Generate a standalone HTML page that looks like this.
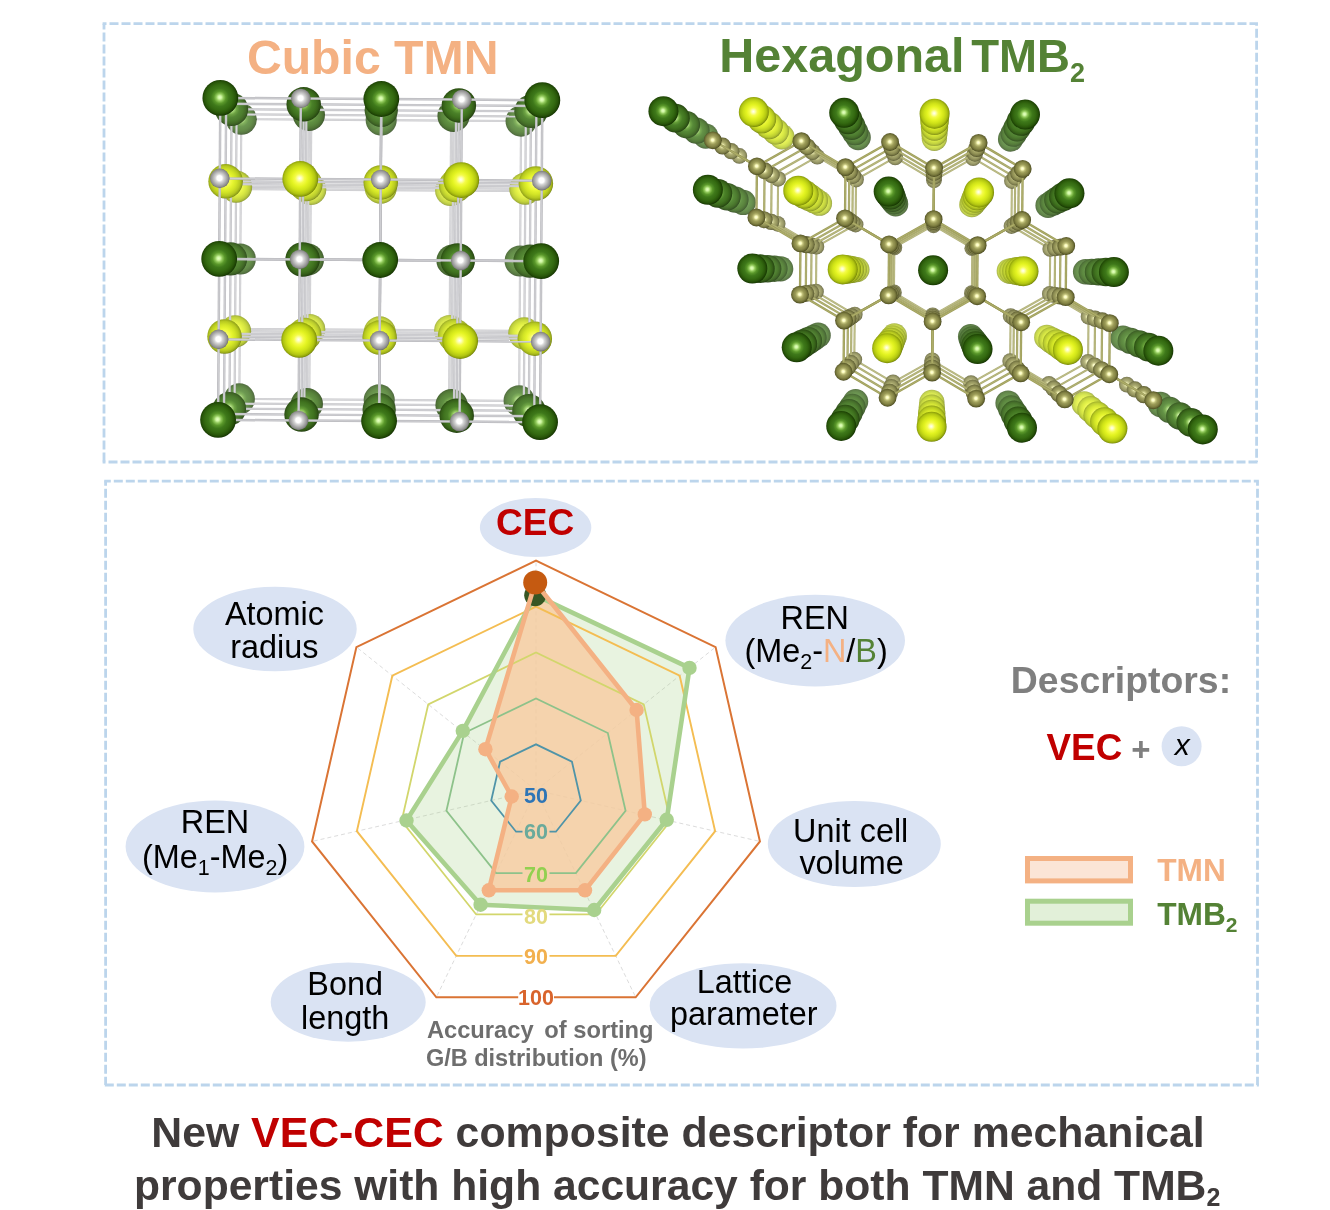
<!DOCTYPE html>
<html lang="en"><head><meta charset="utf-8"><title>VEC-CEC composite descriptor</title>
<style>
html,body{margin:0;padding:0;background:#fff;}
svg{display:block;}
text{font-family:"Liberation Sans", sans-serif;}
.b{font-weight:bold;}
</style></head><body>
<svg width="1330" height="1210" viewBox="0 0 1330 1210">
<defs>
<radialGradient id="G24" cx="0.49" cy="0.49" r="0.51" fx="0.485" fy="0.485"><stop offset="0" stop-color="#eaffd1"/><stop offset="0.09" stop-color="#dbf9ba"/><stop offset="0.2" stop-color="#abd582"/><stop offset="0.33" stop-color="#82b15d"/><stop offset="0.5" stop-color="#6c9851"/><stop offset="0.7" stop-color="#658e4a"/><stop offset="0.85" stop-color="#5c7f45"/><stop offset="0.95" stop-color="#537040"/><stop offset="1" stop-color="#4b613d"/></radialGradient>
<radialGradient id="N24" cx="0.49" cy="0.49" r="0.51" fx="0.485" fy="0.485"><stop offset="0" stop-color="#ffffff"/><stop offset="0.25" stop-color="#ffffff"/><stop offset="0.42" stop-color="#e0e0e0"/><stop offset="0.65" stop-color="#c4c4c4"/><stop offset="0.88" stop-color="#a9a9a9"/><stop offset="1" stop-color="#8e8e8e"/></radialGradient>
<radialGradient id="Y24" cx="0.49" cy="0.49" r="0.51" fx="0.485" fy="0.485"><stop offset="0" stop-color="#fffff7"/><stop offset="0.1" stop-color="#feffc9"/><stop offset="0.26" stop-color="#f7fd74"/><stop offset="0.45" stop-color="#eaf757"/><stop offset="0.65" stop-color="#dbe94f"/><stop offset="0.84" stop-color="#c4d44b"/><stop offset="0.95" stop-color="#abb845"/><stop offset="1" stop-color="#8f9b40"/></radialGradient>
<radialGradient id="N18" cx="0.49" cy="0.49" r="0.51" fx="0.485" fy="0.485"><stop offset="0" stop-color="#ffffff"/><stop offset="0.25" stop-color="#ffffff"/><stop offset="0.42" stop-color="#dddddd"/><stop offset="0.65" stop-color="#c0c0c0"/><stop offset="0.88" stop-color="#a2a2a2"/><stop offset="1" stop-color="#858585"/></radialGradient>
<radialGradient id="Y18" cx="0.49" cy="0.49" r="0.51" fx="0.485" fy="0.485"><stop offset="0" stop-color="#fffff6"/><stop offset="0.1" stop-color="#feffc5"/><stop offset="0.26" stop-color="#f7fd69"/><stop offset="0.45" stop-color="#e9f64a"/><stop offset="0.65" stop-color="#d8e742"/><stop offset="0.84" stop-color="#c0d03d"/><stop offset="0.95" stop-color="#a4b336"/><stop offset="1" stop-color="#869431"/></radialGradient>
<radialGradient id="G18" cx="0.49" cy="0.49" r="0.51" fx="0.485" fy="0.485"><stop offset="0" stop-color="#e9ffcd"/><stop offset="0.09" stop-color="#d8f8b4"/><stop offset="0.2" stop-color="#a4d278"/><stop offset="0.33" stop-color="#78ab50"/><stop offset="0.5" stop-color="#619043"/><stop offset="0.7" stop-color="#59853c"/><stop offset="0.85" stop-color="#507536"/><stop offset="0.95" stop-color="#466531"/><stop offset="1" stop-color="#3d542e"/></radialGradient>
<radialGradient id="G12" cx="0.49" cy="0.49" r="0.51" fx="0.485" fy="0.485"><stop offset="0" stop-color="#e7ffc9"/><stop offset="0.09" stop-color="#d6f8af"/><stop offset="0.2" stop-color="#9dcf6e"/><stop offset="0.33" stop-color="#6ea444"/><stop offset="0.5" stop-color="#558835"/><stop offset="0.7" stop-color="#4c7c2e"/><stop offset="0.85" stop-color="#436b27"/><stop offset="0.95" stop-color="#385a22"/><stop offset="1" stop-color="#2e481f"/></radialGradient>
<radialGradient id="N12" cx="0.49" cy="0.49" r="0.51" fx="0.485" fy="0.485"><stop offset="0" stop-color="#ffffff"/><stop offset="0.25" stop-color="#ffffff"/><stop offset="0.42" stop-color="#dbdbdb"/><stop offset="0.65" stop-color="#bbbbbb"/><stop offset="0.88" stop-color="#9c9c9c"/><stop offset="1" stop-color="#7c7c7c"/></radialGradient>
<radialGradient id="Y12" cx="0.49" cy="0.49" r="0.51" fx="0.485" fy="0.485"><stop offset="0" stop-color="#fffff5"/><stop offset="0.1" stop-color="#feffc1"/><stop offset="0.26" stop-color="#f6fc5e"/><stop offset="0.45" stop-color="#e7f53d"/><stop offset="0.65" stop-color="#d5e534"/><stop offset="0.84" stop-color="#bbcd2e"/><stop offset="0.95" stop-color="#9dad27"/><stop offset="1" stop-color="#7e8c22"/></radialGradient>
<radialGradient id="N6" cx="0.49" cy="0.49" r="0.51" fx="0.485" fy="0.485"><stop offset="0" stop-color="#ffffff"/><stop offset="0.25" stop-color="#ffffff"/><stop offset="0.42" stop-color="#d8d8d8"/><stop offset="0.65" stop-color="#b7b7b7"/><stop offset="0.88" stop-color="#959595"/><stop offset="1" stop-color="#737373"/></radialGradient>
<radialGradient id="Y6" cx="0.49" cy="0.49" r="0.51" fx="0.485" fy="0.485"><stop offset="0" stop-color="#fffff5"/><stop offset="0.1" stop-color="#feffbc"/><stop offset="0.26" stop-color="#f6fc53"/><stop offset="0.45" stop-color="#e6f52f"/><stop offset="0.65" stop-color="#d2e426"/><stop offset="0.84" stop-color="#b7c920"/><stop offset="0.95" stop-color="#97a819"/><stop offset="1" stop-color="#758413"/></radialGradient>
<radialGradient id="G6" cx="0.49" cy="0.49" r="0.51" fx="0.485" fy="0.485"><stop offset="0" stop-color="#e6ffc6"/><stop offset="0.09" stop-color="#d3f7a9"/><stop offset="0.2" stop-color="#97cb64"/><stop offset="0.33" stop-color="#649e37"/><stop offset="0.5" stop-color="#4a8028"/><stop offset="0.7" stop-color="#40731f"/><stop offset="0.85" stop-color="#366119"/><stop offset="0.95" stop-color="#2b4e13"/><stop offset="1" stop-color="#203b0f"/></radialGradient>
<radialGradient id="G0" cx="0.49" cy="0.49" r="0.51" fx="0.485" fy="0.485"><stop offset="0" stop-color="#e4ffc2"/><stop offset="0.09" stop-color="#d0f7a4"/><stop offset="0.2" stop-color="#90c85a"/><stop offset="0.33" stop-color="#5a982a"/><stop offset="0.5" stop-color="#3e781a"/><stop offset="0.7" stop-color="#346a11"/><stop offset="0.85" stop-color="#29570a"/><stop offset="0.95" stop-color="#1d4304"/><stop offset="1" stop-color="#122f00"/></radialGradient>
<radialGradient id="N0" cx="0.49" cy="0.49" r="0.51" fx="0.485" fy="0.485"><stop offset="0" stop-color="#ffffff"/><stop offset="0.25" stop-color="#ffffff"/><stop offset="0.42" stop-color="#d6d6d6"/><stop offset="0.65" stop-color="#b2b2b2"/><stop offset="0.88" stop-color="#8e8e8e"/><stop offset="1" stop-color="#6a6a6a"/></radialGradient>
<radialGradient id="Y0" cx="0.49" cy="0.49" r="0.51" fx="0.485" fy="0.485"><stop offset="0" stop-color="#fffff4"/><stop offset="0.1" stop-color="#feffb8"/><stop offset="0.26" stop-color="#f5fc48"/><stop offset="0.45" stop-color="#e4f422"/><stop offset="0.65" stop-color="#cfe218"/><stop offset="0.84" stop-color="#b2c612"/><stop offset="0.95" stop-color="#90a20a"/><stop offset="1" stop-color="#6c7c04"/></radialGradient>
<radialGradient id="G26" cx="0.49" cy="0.49" r="0.51" fx="0.485" fy="0.485"><stop offset="0" stop-color="#ebffd2"/><stop offset="0.09" stop-color="#dcf9bc"/><stop offset="0.2" stop-color="#add685"/><stop offset="0.33" stop-color="#85b361"/><stop offset="0.5" stop-color="#709b56"/><stop offset="0.7" stop-color="#69914f"/><stop offset="0.85" stop-color="#61834a"/><stop offset="0.95" stop-color="#587445"/><stop offset="1" stop-color="#506542"/></radialGradient>
<radialGradient id="Y26" cx="0.49" cy="0.49" r="0.51" fx="0.485" fy="0.485"><stop offset="0" stop-color="#fffff7"/><stop offset="0.1" stop-color="#feffca"/><stop offset="0.26" stop-color="#f8fd78"/><stop offset="0.45" stop-color="#ebf75b"/><stop offset="0.65" stop-color="#dbea54"/><stop offset="0.84" stop-color="#c6d550"/><stop offset="0.95" stop-color="#adba4a"/><stop offset="1" stop-color="#929e45"/></radialGradient>
<radialGradient id="B22" cx="0.49" cy="0.49" r="0.51" fx="0.485" fy="0.485"><stop offset="0" stop-color="#ffffe8"/><stop offset="0.14" stop-color="#fcfcc9"/><stop offset="0.3" stop-color="#cdcd95"/><stop offset="0.48" stop-color="#afaf79"/><stop offset="0.7" stop-color="#9e9e6c"/><stop offset="0.88" stop-color="#87875b"/><stop offset="1" stop-color="#696949"/></radialGradient>
<radialGradient id="G20" cx="0.49" cy="0.49" r="0.51" fx="0.485" fy="0.485"><stop offset="0" stop-color="#e9ffce"/><stop offset="0.09" stop-color="#d9f9b6"/><stop offset="0.2" stop-color="#a6d37a"/><stop offset="0.33" stop-color="#7aac54"/><stop offset="0.5" stop-color="#649247"/><stop offset="0.7" stop-color="#5c873f"/><stop offset="0.85" stop-color="#53783a"/><stop offset="0.95" stop-color="#496835"/><stop offset="1" stop-color="#405832"/></radialGradient>
<radialGradient id="Y20" cx="0.49" cy="0.49" r="0.51" fx="0.485" fy="0.485"><stop offset="0" stop-color="#fffff6"/><stop offset="0.1" stop-color="#feffc6"/><stop offset="0.26" stop-color="#f7fd6c"/><stop offset="0.45" stop-color="#e9f64d"/><stop offset="0.65" stop-color="#d8e845"/><stop offset="0.84" stop-color="#c1d140"/><stop offset="0.95" stop-color="#a6b43a"/><stop offset="1" stop-color="#899635"/></radialGradient>
<radialGradient id="B16" cx="0.49" cy="0.49" r="0.51" fx="0.485" fy="0.485"><stop offset="0" stop-color="#ffffe7"/><stop offset="0.14" stop-color="#fcfcc5"/><stop offset="0.3" stop-color="#c8c88c"/><stop offset="0.48" stop-color="#a8a86d"/><stop offset="0.7" stop-color="#969660"/><stop offset="0.88" stop-color="#7d7d4d"/><stop offset="1" stop-color="#5d5d39"/></radialGradient>
<radialGradient id="G13" cx="0.49" cy="0.49" r="0.51" fx="0.485" fy="0.485"><stop offset="0" stop-color="#e8ffca"/><stop offset="0.09" stop-color="#d6f8b0"/><stop offset="0.2" stop-color="#9ecf6f"/><stop offset="0.33" stop-color="#6fa546"/><stop offset="0.5" stop-color="#578a38"/><stop offset="0.7" stop-color="#4e7d30"/><stop offset="0.85" stop-color="#456d2a"/><stop offset="0.95" stop-color="#3a5b25"/><stop offset="1" stop-color="#314a21"/></radialGradient>
<radialGradient id="Y13" cx="0.49" cy="0.49" r="0.51" fx="0.485" fy="0.485"><stop offset="0" stop-color="#fffff5"/><stop offset="0.1" stop-color="#feffc1"/><stop offset="0.26" stop-color="#f6fc60"/><stop offset="0.45" stop-color="#e8f53f"/><stop offset="0.65" stop-color="#d5e636"/><stop offset="0.84" stop-color="#bccd31"/><stop offset="0.95" stop-color="#9eae2a"/><stop offset="1" stop-color="#7f8d25"/></radialGradient>
<radialGradient id="B9" cx="0.49" cy="0.49" r="0.51" fx="0.485" fy="0.485"><stop offset="0" stop-color="#ffffe5"/><stop offset="0.14" stop-color="#fbfbc0"/><stop offset="0.3" stop-color="#c4c483"/><stop offset="0.48" stop-color="#a2a262"/><stop offset="0.7" stop-color="#8e8e54"/><stop offset="0.88" stop-color="#737340"/><stop offset="1" stop-color="#50502a"/></radialGradient>
<radialGradient id="B3" cx="0.49" cy="0.49" r="0.51" fx="0.485" fy="0.485"><stop offset="0" stop-color="#ffffe3"/><stop offset="0.14" stop-color="#fbfbbc"/><stop offset="0.3" stop-color="#c0c07a"/><stop offset="0.48" stop-color="#9b9b57"/><stop offset="0.7" stop-color="#868647"/><stop offset="0.88" stop-color="#686832"/><stop offset="1" stop-color="#44441b"/></radialGradient>
</defs>
<line x1="102.6" y1="23.7" x2="1258" y2="23.7" stroke="#bcd5ec" stroke-width="2.8" stroke-dasharray="9 3" stroke-dashoffset="5.1"/>
<line x1="104" y1="23.7" x2="104" y2="462" stroke="#bcd5ec" stroke-width="2.8" stroke-dasharray="9 3" stroke-dashoffset="3.1"/>
<line x1="1256.6" y1="23.7" x2="1256.6" y2="462" stroke="#bcd5ec" stroke-width="2.8" stroke-dasharray="9 3" stroke-dashoffset="6.95"/>
<line x1="102.6" y1="462" x2="1258" y2="462" stroke="#bcd5ec" stroke-width="2.8" stroke-dasharray="9 3" stroke-dashoffset="6.1"/>
<line x1="104.2" y1="481.2" x2="1258.9" y2="481.2" stroke="#bcd5ec" stroke-width="2.8" stroke-dasharray="9 3" stroke-dashoffset="2.4"/>
<line x1="105.6" y1="481.2" x2="105.6" y2="1085" stroke="#bcd5ec" stroke-width="2.8" stroke-dasharray="9 3" stroke-dashoffset="4.4"/>
<line x1="1257.5" y1="481.2" x2="1257.5" y2="1085" stroke="#bcd5ec" stroke-width="2.8" stroke-dasharray="9 3" stroke-dashoffset="4.5"/>
<line x1="104.2" y1="1085" x2="1258.9" y2="1085" stroke="#bcd5ec" stroke-width="2.8" stroke-dasharray="9 3" stroke-dashoffset="11.4"/>
<g>
<line x1="241.29" y1="119.14" x2="311.24" y2="119.63" stroke="#cccccf" stroke-width="2.17"/>
<line x1="241.29" y1="119.14" x2="311.24" y2="119.63" stroke="#dbdbde" stroke-width="0.87"/>
<line x1="241.29" y1="119.14" x2="240.81" y2="189.08" stroke="#cccccf" stroke-width="2.17"/>
<line x1="241.29" y1="119.14" x2="240.81" y2="189.08" stroke="#dbdbde" stroke-width="0.87"/>
<line x1="240.81" y1="189.08" x2="310.75" y2="189.57" stroke="#cccccf" stroke-width="2.17"/>
<line x1="240.81" y1="189.08" x2="310.75" y2="189.57" stroke="#dbdbde" stroke-width="0.87"/>
<line x1="240.81" y1="189.08" x2="240.32" y2="259.02" stroke="#cccccf" stroke-width="2.17"/>
<line x1="240.81" y1="189.08" x2="240.32" y2="259.02" stroke="#dbdbde" stroke-width="0.87"/>
<line x1="240.32" y1="259.02" x2="310.26" y2="259.51" stroke="#cccccf" stroke-width="2.17"/>
<line x1="240.32" y1="259.02" x2="310.26" y2="259.51" stroke="#dbdbde" stroke-width="0.87"/>
<line x1="240.32" y1="259.02" x2="239.83" y2="328.96" stroke="#cccccf" stroke-width="2.17"/>
<line x1="240.32" y1="259.02" x2="239.83" y2="328.96" stroke="#dbdbde" stroke-width="0.87"/>
<line x1="239.83" y1="328.96" x2="309.77" y2="329.45" stroke="#cccccf" stroke-width="2.17"/>
<line x1="239.83" y1="328.96" x2="309.77" y2="329.45" stroke="#dbdbde" stroke-width="0.87"/>
<line x1="239.83" y1="328.96" x2="239.34" y2="398.91" stroke="#cccccf" stroke-width="2.17"/>
<line x1="239.83" y1="328.96" x2="239.34" y2="398.91" stroke="#dbdbde" stroke-width="0.87"/>
<line x1="239.34" y1="398.91" x2="309.28" y2="399.39" stroke="#cccccf" stroke-width="2.17"/>
<line x1="239.34" y1="398.91" x2="309.28" y2="399.39" stroke="#dbdbde" stroke-width="0.87"/>
<line x1="311.24" y1="119.63" x2="381.18" y2="120.12" stroke="#cccccf" stroke-width="2.17"/>
<line x1="311.24" y1="119.63" x2="381.18" y2="120.12" stroke="#dbdbde" stroke-width="0.87"/>
<line x1="311.24" y1="119.63" x2="310.75" y2="189.57" stroke="#cccccf" stroke-width="2.17"/>
<line x1="311.24" y1="119.63" x2="310.75" y2="189.57" stroke="#dbdbde" stroke-width="0.87"/>
<line x1="310.75" y1="189.57" x2="380.69" y2="190.06" stroke="#cccccf" stroke-width="2.17"/>
<line x1="310.75" y1="189.57" x2="380.69" y2="190.06" stroke="#dbdbde" stroke-width="0.87"/>
<line x1="310.75" y1="189.57" x2="310.26" y2="259.51" stroke="#cccccf" stroke-width="2.17"/>
<line x1="310.75" y1="189.57" x2="310.26" y2="259.51" stroke="#dbdbde" stroke-width="0.87"/>
<line x1="310.26" y1="259.51" x2="380.2" y2="260" stroke="#cccccf" stroke-width="2.17"/>
<line x1="310.26" y1="259.51" x2="380.2" y2="260" stroke="#dbdbde" stroke-width="0.87"/>
<line x1="310.26" y1="259.51" x2="309.77" y2="329.45" stroke="#cccccf" stroke-width="2.17"/>
<line x1="310.26" y1="259.51" x2="309.77" y2="329.45" stroke="#dbdbde" stroke-width="0.87"/>
<line x1="309.77" y1="329.45" x2="379.71" y2="329.94" stroke="#cccccf" stroke-width="2.17"/>
<line x1="309.77" y1="329.45" x2="379.71" y2="329.94" stroke="#dbdbde" stroke-width="0.87"/>
<line x1="309.77" y1="329.45" x2="309.28" y2="399.39" stroke="#cccccf" stroke-width="2.17"/>
<line x1="309.77" y1="329.45" x2="309.28" y2="399.39" stroke="#dbdbde" stroke-width="0.87"/>
<line x1="309.28" y1="399.39" x2="379.22" y2="399.88" stroke="#cccccf" stroke-width="2.17"/>
<line x1="309.28" y1="399.39" x2="379.22" y2="399.88" stroke="#dbdbde" stroke-width="0.87"/>
<line x1="381.18" y1="120.12" x2="451.12" y2="120.61" stroke="#cccccf" stroke-width="2.17"/>
<line x1="381.18" y1="120.12" x2="451.12" y2="120.61" stroke="#dbdbde" stroke-width="0.87"/>
<line x1="381.18" y1="120.12" x2="380.69" y2="190.06" stroke="#cccccf" stroke-width="2.17"/>
<line x1="381.18" y1="120.12" x2="380.69" y2="190.06" stroke="#dbdbde" stroke-width="0.87"/>
<line x1="380.69" y1="190.06" x2="450.63" y2="190.55" stroke="#cccccf" stroke-width="2.17"/>
<line x1="380.69" y1="190.06" x2="450.63" y2="190.55" stroke="#dbdbde" stroke-width="0.87"/>
<line x1="380.69" y1="190.06" x2="380.2" y2="260" stroke="#cccccf" stroke-width="2.17"/>
<line x1="380.69" y1="190.06" x2="380.2" y2="260" stroke="#dbdbde" stroke-width="0.87"/>
<line x1="380.2" y1="260" x2="450.14" y2="260.49" stroke="#cccccf" stroke-width="2.17"/>
<line x1="380.2" y1="260" x2="450.14" y2="260.49" stroke="#dbdbde" stroke-width="0.87"/>
<line x1="380.2" y1="260" x2="379.71" y2="329.94" stroke="#cccccf" stroke-width="2.17"/>
<line x1="380.2" y1="260" x2="379.71" y2="329.94" stroke="#dbdbde" stroke-width="0.87"/>
<line x1="379.71" y1="329.94" x2="449.65" y2="330.43" stroke="#cccccf" stroke-width="2.17"/>
<line x1="379.71" y1="329.94" x2="449.65" y2="330.43" stroke="#dbdbde" stroke-width="0.87"/>
<line x1="379.71" y1="329.94" x2="379.22" y2="399.88" stroke="#cccccf" stroke-width="2.17"/>
<line x1="379.71" y1="329.94" x2="379.22" y2="399.88" stroke="#dbdbde" stroke-width="0.87"/>
<line x1="379.22" y1="399.88" x2="449.16" y2="400.37" stroke="#cccccf" stroke-width="2.17"/>
<line x1="379.22" y1="399.88" x2="449.16" y2="400.37" stroke="#dbdbde" stroke-width="0.87"/>
<line x1="451.12" y1="120.61" x2="521.06" y2="121.09" stroke="#cccccf" stroke-width="2.17"/>
<line x1="451.12" y1="120.61" x2="521.06" y2="121.09" stroke="#dbdbde" stroke-width="0.87"/>
<line x1="451.12" y1="120.61" x2="450.63" y2="190.55" stroke="#cccccf" stroke-width="2.17"/>
<line x1="451.12" y1="120.61" x2="450.63" y2="190.55" stroke="#dbdbde" stroke-width="0.87"/>
<line x1="450.63" y1="190.55" x2="520.57" y2="191.04" stroke="#cccccf" stroke-width="2.17"/>
<line x1="450.63" y1="190.55" x2="520.57" y2="191.04" stroke="#dbdbde" stroke-width="0.87"/>
<line x1="450.63" y1="190.55" x2="450.14" y2="260.49" stroke="#cccccf" stroke-width="2.17"/>
<line x1="450.63" y1="190.55" x2="450.14" y2="260.49" stroke="#dbdbde" stroke-width="0.87"/>
<line x1="450.14" y1="260.49" x2="520.08" y2="260.98" stroke="#cccccf" stroke-width="2.17"/>
<line x1="450.14" y1="260.49" x2="520.08" y2="260.98" stroke="#dbdbde" stroke-width="0.87"/>
<line x1="450.14" y1="260.49" x2="449.65" y2="330.43" stroke="#cccccf" stroke-width="2.17"/>
<line x1="450.14" y1="260.49" x2="449.65" y2="330.43" stroke="#dbdbde" stroke-width="0.87"/>
<line x1="449.65" y1="330.43" x2="519.59" y2="330.92" stroke="#cccccf" stroke-width="2.17"/>
<line x1="449.65" y1="330.43" x2="519.59" y2="330.92" stroke="#dbdbde" stroke-width="0.87"/>
<line x1="449.65" y1="330.43" x2="449.16" y2="400.37" stroke="#cccccf" stroke-width="2.17"/>
<line x1="449.65" y1="330.43" x2="449.16" y2="400.37" stroke="#dbdbde" stroke-width="0.87"/>
<line x1="449.16" y1="400.37" x2="519.11" y2="400.86" stroke="#cccccf" stroke-width="2.17"/>
<line x1="449.16" y1="400.37" x2="519.11" y2="400.86" stroke="#dbdbde" stroke-width="0.87"/>
<line x1="521.06" y1="121.09" x2="520.57" y2="191.04" stroke="#cccccf" stroke-width="2.17"/>
<line x1="521.06" y1="121.09" x2="520.57" y2="191.04" stroke="#dbdbde" stroke-width="0.87"/>
<line x1="520.57" y1="191.04" x2="520.08" y2="260.98" stroke="#cccccf" stroke-width="2.17"/>
<line x1="520.57" y1="191.04" x2="520.08" y2="260.98" stroke="#dbdbde" stroke-width="0.87"/>
<line x1="520.08" y1="260.98" x2="519.59" y2="330.92" stroke="#cccccf" stroke-width="2.17"/>
<line x1="520.08" y1="260.98" x2="519.59" y2="330.92" stroke="#dbdbde" stroke-width="0.87"/>
<line x1="519.59" y1="330.92" x2="519.11" y2="400.86" stroke="#cccccf" stroke-width="2.17"/>
<line x1="519.59" y1="330.92" x2="519.11" y2="400.86" stroke="#dbdbde" stroke-width="0.87"/>
<circle cx="241.29" cy="119.14" r="15.55" fill="url(#G24)"/>
<circle cx="240.81" cy="189.08" r="8.51" fill="url(#N24)"/>
<circle cx="240.32" cy="259.02" r="15.55" fill="url(#G24)"/>
<circle cx="239.83" cy="328.96" r="8.51" fill="url(#N24)"/>
<circle cx="239.34" cy="398.91" r="15.55" fill="url(#G24)"/>
<circle cx="311.24" cy="119.63" r="8.51" fill="url(#N24)"/>
<circle cx="310.75" cy="189.57" r="15.55" fill="url(#Y24)"/>
<circle cx="310.26" cy="259.51" r="8.51" fill="url(#N24)"/>
<circle cx="309.77" cy="329.45" r="15.55" fill="url(#Y24)"/>
<circle cx="309.28" cy="399.39" r="8.51" fill="url(#N24)"/>
<circle cx="381.18" cy="120.12" r="15.55" fill="url(#G24)"/>
<circle cx="380.69" cy="190.06" r="8.51" fill="url(#N24)"/>
<circle cx="380.2" cy="260" r="15.55" fill="url(#G24)"/>
<circle cx="379.71" cy="329.94" r="8.51" fill="url(#N24)"/>
<circle cx="379.22" cy="399.88" r="15.55" fill="url(#G24)"/>
<circle cx="451.12" cy="120.61" r="8.51" fill="url(#N24)"/>
<circle cx="450.63" cy="190.55" r="15.55" fill="url(#Y24)"/>
<circle cx="450.14" cy="260.49" r="8.51" fill="url(#N24)"/>
<circle cx="449.65" cy="330.43" r="15.55" fill="url(#Y24)"/>
<circle cx="449.16" cy="400.37" r="8.51" fill="url(#N24)"/>
<circle cx="521.06" cy="121.09" r="15.55" fill="url(#G24)"/>
<circle cx="520.57" cy="191.04" r="8.51" fill="url(#N24)"/>
<circle cx="520.08" cy="260.98" r="15.55" fill="url(#G24)"/>
<circle cx="519.59" cy="330.92" r="8.51" fill="url(#N24)"/>
<circle cx="519.11" cy="400.86" r="15.55" fill="url(#G24)"/>
<line x1="241.29" y1="119.14" x2="236.59" y2="114.37" stroke="#cacacd" stroke-width="2.21"/>
<line x1="241.29" y1="119.14" x2="236.59" y2="114.37" stroke="#d9d9dc" stroke-width="0.88"/>
<line x1="240.81" y1="189.08" x2="236.08" y2="186.68" stroke="#cacacd" stroke-width="2.21"/>
<line x1="240.81" y1="189.08" x2="236.08" y2="186.68" stroke="#d9d9dc" stroke-width="0.88"/>
<line x1="240.32" y1="259.02" x2="235.58" y2="258.99" stroke="#cacacd" stroke-width="2.21"/>
<line x1="240.32" y1="259.02" x2="235.58" y2="258.99" stroke="#d9d9dc" stroke-width="0.88"/>
<line x1="239.83" y1="328.96" x2="235.07" y2="331.3" stroke="#cacacd" stroke-width="2.21"/>
<line x1="239.83" y1="328.96" x2="235.07" y2="331.3" stroke="#d9d9dc" stroke-width="0.88"/>
<line x1="239.34" y1="398.91" x2="234.57" y2="403.61" stroke="#cacacd" stroke-width="2.21"/>
<line x1="239.34" y1="398.91" x2="234.57" y2="403.61" stroke="#d9d9dc" stroke-width="0.88"/>
<line x1="311.24" y1="119.63" x2="308.9" y2="114.87" stroke="#cacacd" stroke-width="2.21"/>
<line x1="311.24" y1="119.63" x2="308.9" y2="114.87" stroke="#d9d9dc" stroke-width="0.88"/>
<line x1="310.75" y1="189.57" x2="308.39" y2="187.18" stroke="#cacacd" stroke-width="2.21"/>
<line x1="310.75" y1="189.57" x2="308.39" y2="187.18" stroke="#d9d9dc" stroke-width="0.88"/>
<line x1="310.26" y1="259.51" x2="307.89" y2="259.5" stroke="#cacacd" stroke-width="2.21"/>
<line x1="310.26" y1="259.51" x2="307.89" y2="259.5" stroke="#d9d9dc" stroke-width="0.88"/>
<line x1="309.77" y1="329.45" x2="307.38" y2="331.81" stroke="#cacacd" stroke-width="2.21"/>
<line x1="309.77" y1="329.45" x2="307.38" y2="331.81" stroke="#d9d9dc" stroke-width="0.88"/>
<line x1="309.28" y1="399.39" x2="306.88" y2="404.12" stroke="#cacacd" stroke-width="2.21"/>
<line x1="309.28" y1="399.39" x2="306.88" y2="404.12" stroke="#d9d9dc" stroke-width="0.88"/>
<line x1="381.18" y1="120.12" x2="381.21" y2="115.38" stroke="#cacacd" stroke-width="2.21"/>
<line x1="381.18" y1="120.12" x2="381.21" y2="115.38" stroke="#d9d9dc" stroke-width="0.88"/>
<line x1="380.69" y1="190.06" x2="380.7" y2="187.69" stroke="#cacacd" stroke-width="2.21"/>
<line x1="380.69" y1="190.06" x2="380.7" y2="187.69" stroke="#d9d9dc" stroke-width="0.88"/>
<line x1="380.2" y1="260" x2="380.2" y2="260" stroke="#cacacd" stroke-width="2.21"/>
<line x1="380.2" y1="260" x2="380.2" y2="260" stroke="#d9d9dc" stroke-width="0.88"/>
<line x1="379.71" y1="329.94" x2="379.7" y2="332.31" stroke="#cacacd" stroke-width="2.21"/>
<line x1="379.71" y1="329.94" x2="379.7" y2="332.31" stroke="#d9d9dc" stroke-width="0.88"/>
<line x1="379.22" y1="399.88" x2="379.19" y2="404.62" stroke="#cacacd" stroke-width="2.21"/>
<line x1="379.22" y1="399.88" x2="379.19" y2="404.62" stroke="#d9d9dc" stroke-width="0.88"/>
<line x1="451.12" y1="120.61" x2="453.52" y2="115.88" stroke="#cacacd" stroke-width="2.21"/>
<line x1="451.12" y1="120.61" x2="453.52" y2="115.88" stroke="#d9d9dc" stroke-width="0.88"/>
<line x1="450.63" y1="190.55" x2="453.02" y2="188.19" stroke="#cacacd" stroke-width="2.21"/>
<line x1="450.63" y1="190.55" x2="453.02" y2="188.19" stroke="#d9d9dc" stroke-width="0.88"/>
<line x1="450.14" y1="260.49" x2="452.51" y2="260.5" stroke="#cacacd" stroke-width="2.21"/>
<line x1="450.14" y1="260.49" x2="452.51" y2="260.5" stroke="#d9d9dc" stroke-width="0.88"/>
<line x1="449.65" y1="330.43" x2="452.01" y2="332.82" stroke="#cacacd" stroke-width="2.21"/>
<line x1="449.65" y1="330.43" x2="452.01" y2="332.82" stroke="#d9d9dc" stroke-width="0.88"/>
<line x1="449.16" y1="400.37" x2="451.5" y2="405.13" stroke="#cacacd" stroke-width="2.21"/>
<line x1="449.16" y1="400.37" x2="451.5" y2="405.13" stroke="#d9d9dc" stroke-width="0.88"/>
<line x1="521.06" y1="121.09" x2="525.83" y2="116.39" stroke="#cacacd" stroke-width="2.21"/>
<line x1="521.06" y1="121.09" x2="525.83" y2="116.39" stroke="#d9d9dc" stroke-width="0.88"/>
<line x1="520.57" y1="191.04" x2="525.33" y2="188.7" stroke="#cacacd" stroke-width="2.21"/>
<line x1="520.57" y1="191.04" x2="525.33" y2="188.7" stroke="#d9d9dc" stroke-width="0.88"/>
<line x1="520.08" y1="260.98" x2="524.82" y2="261.01" stroke="#cacacd" stroke-width="2.21"/>
<line x1="520.08" y1="260.98" x2="524.82" y2="261.01" stroke="#d9d9dc" stroke-width="0.88"/>
<line x1="519.59" y1="330.92" x2="524.32" y2="333.32" stroke="#cacacd" stroke-width="2.21"/>
<line x1="519.59" y1="330.92" x2="524.32" y2="333.32" stroke="#d9d9dc" stroke-width="0.88"/>
<line x1="519.11" y1="400.86" x2="523.81" y2="405.63" stroke="#cacacd" stroke-width="2.21"/>
<line x1="519.11" y1="400.86" x2="523.81" y2="405.63" stroke="#d9d9dc" stroke-width="0.88"/>
<line x1="236.59" y1="114.37" x2="308.9" y2="114.87" stroke="#c8c8cb" stroke-width="2.25"/>
<line x1="236.59" y1="114.37" x2="308.9" y2="114.87" stroke="#d8d8db" stroke-width="0.9"/>
<line x1="236.59" y1="114.37" x2="236.08" y2="186.68" stroke="#c8c8cb" stroke-width="2.25"/>
<line x1="236.59" y1="114.37" x2="236.08" y2="186.68" stroke="#d8d8db" stroke-width="0.9"/>
<line x1="236.08" y1="186.68" x2="308.39" y2="187.18" stroke="#c8c8cb" stroke-width="2.25"/>
<line x1="236.08" y1="186.68" x2="308.39" y2="187.18" stroke="#d8d8db" stroke-width="0.9"/>
<line x1="236.08" y1="186.68" x2="235.58" y2="258.99" stroke="#c8c8cb" stroke-width="2.25"/>
<line x1="236.08" y1="186.68" x2="235.58" y2="258.99" stroke="#d8d8db" stroke-width="0.9"/>
<line x1="235.58" y1="258.99" x2="307.89" y2="259.5" stroke="#c8c8cb" stroke-width="2.25"/>
<line x1="235.58" y1="258.99" x2="307.89" y2="259.5" stroke="#d8d8db" stroke-width="0.9"/>
<line x1="235.58" y1="258.99" x2="235.07" y2="331.3" stroke="#c8c8cb" stroke-width="2.25"/>
<line x1="235.58" y1="258.99" x2="235.07" y2="331.3" stroke="#d8d8db" stroke-width="0.9"/>
<line x1="235.07" y1="331.3" x2="307.38" y2="331.81" stroke="#c8c8cb" stroke-width="2.25"/>
<line x1="235.07" y1="331.3" x2="307.38" y2="331.81" stroke="#d8d8db" stroke-width="0.9"/>
<line x1="235.07" y1="331.3" x2="234.57" y2="403.61" stroke="#c8c8cb" stroke-width="2.25"/>
<line x1="235.07" y1="331.3" x2="234.57" y2="403.61" stroke="#d8d8db" stroke-width="0.9"/>
<line x1="234.57" y1="403.61" x2="306.88" y2="404.12" stroke="#c8c8cb" stroke-width="2.25"/>
<line x1="234.57" y1="403.61" x2="306.88" y2="404.12" stroke="#d8d8db" stroke-width="0.9"/>
<line x1="308.9" y1="114.87" x2="381.21" y2="115.38" stroke="#c8c8cb" stroke-width="2.25"/>
<line x1="308.9" y1="114.87" x2="381.21" y2="115.38" stroke="#d8d8db" stroke-width="0.9"/>
<line x1="308.9" y1="114.87" x2="308.39" y2="187.18" stroke="#c8c8cb" stroke-width="2.25"/>
<line x1="308.9" y1="114.87" x2="308.39" y2="187.18" stroke="#d8d8db" stroke-width="0.9"/>
<line x1="308.39" y1="187.18" x2="380.7" y2="187.69" stroke="#c8c8cb" stroke-width="2.25"/>
<line x1="308.39" y1="187.18" x2="380.7" y2="187.69" stroke="#d8d8db" stroke-width="0.9"/>
<line x1="308.39" y1="187.18" x2="307.89" y2="259.5" stroke="#c8c8cb" stroke-width="2.25"/>
<line x1="308.39" y1="187.18" x2="307.89" y2="259.5" stroke="#d8d8db" stroke-width="0.9"/>
<line x1="307.89" y1="259.5" x2="380.2" y2="260" stroke="#c8c8cb" stroke-width="2.25"/>
<line x1="307.89" y1="259.5" x2="380.2" y2="260" stroke="#d8d8db" stroke-width="0.9"/>
<line x1="307.89" y1="259.5" x2="307.38" y2="331.81" stroke="#c8c8cb" stroke-width="2.25"/>
<line x1="307.89" y1="259.5" x2="307.38" y2="331.81" stroke="#d8d8db" stroke-width="0.9"/>
<line x1="307.38" y1="331.81" x2="379.7" y2="332.31" stroke="#c8c8cb" stroke-width="2.25"/>
<line x1="307.38" y1="331.81" x2="379.7" y2="332.31" stroke="#d8d8db" stroke-width="0.9"/>
<line x1="307.38" y1="331.81" x2="306.88" y2="404.12" stroke="#c8c8cb" stroke-width="2.25"/>
<line x1="307.38" y1="331.81" x2="306.88" y2="404.12" stroke="#d8d8db" stroke-width="0.9"/>
<line x1="306.88" y1="404.12" x2="379.19" y2="404.62" stroke="#c8c8cb" stroke-width="2.25"/>
<line x1="306.88" y1="404.12" x2="379.19" y2="404.62" stroke="#d8d8db" stroke-width="0.9"/>
<line x1="381.21" y1="115.38" x2="453.52" y2="115.88" stroke="#c8c8cb" stroke-width="2.25"/>
<line x1="381.21" y1="115.38" x2="453.52" y2="115.88" stroke="#d8d8db" stroke-width="0.9"/>
<line x1="381.21" y1="115.38" x2="380.7" y2="187.69" stroke="#c8c8cb" stroke-width="2.25"/>
<line x1="381.21" y1="115.38" x2="380.7" y2="187.69" stroke="#d8d8db" stroke-width="0.9"/>
<line x1="380.7" y1="187.69" x2="453.02" y2="188.19" stroke="#c8c8cb" stroke-width="2.25"/>
<line x1="380.7" y1="187.69" x2="453.02" y2="188.19" stroke="#d8d8db" stroke-width="0.9"/>
<line x1="380.7" y1="187.69" x2="380.2" y2="260" stroke="#c8c8cb" stroke-width="2.25"/>
<line x1="380.7" y1="187.69" x2="380.2" y2="260" stroke="#d8d8db" stroke-width="0.9"/>
<line x1="380.2" y1="260" x2="452.51" y2="260.5" stroke="#c8c8cb" stroke-width="2.25"/>
<line x1="380.2" y1="260" x2="452.51" y2="260.5" stroke="#d8d8db" stroke-width="0.9"/>
<line x1="380.2" y1="260" x2="379.7" y2="332.31" stroke="#c8c8cb" stroke-width="2.25"/>
<line x1="380.2" y1="260" x2="379.7" y2="332.31" stroke="#d8d8db" stroke-width="0.9"/>
<line x1="379.7" y1="332.31" x2="452.01" y2="332.82" stroke="#c8c8cb" stroke-width="2.25"/>
<line x1="379.7" y1="332.31" x2="452.01" y2="332.82" stroke="#d8d8db" stroke-width="0.9"/>
<line x1="379.7" y1="332.31" x2="379.19" y2="404.62" stroke="#c8c8cb" stroke-width="2.25"/>
<line x1="379.7" y1="332.31" x2="379.19" y2="404.62" stroke="#d8d8db" stroke-width="0.9"/>
<line x1="379.19" y1="404.62" x2="451.5" y2="405.13" stroke="#c8c8cb" stroke-width="2.25"/>
<line x1="379.19" y1="404.62" x2="451.5" y2="405.13" stroke="#d8d8db" stroke-width="0.9"/>
<line x1="453.52" y1="115.88" x2="525.83" y2="116.39" stroke="#c8c8cb" stroke-width="2.25"/>
<line x1="453.52" y1="115.88" x2="525.83" y2="116.39" stroke="#d8d8db" stroke-width="0.9"/>
<line x1="453.52" y1="115.88" x2="453.02" y2="188.19" stroke="#c8c8cb" stroke-width="2.25"/>
<line x1="453.52" y1="115.88" x2="453.02" y2="188.19" stroke="#d8d8db" stroke-width="0.9"/>
<line x1="453.02" y1="188.19" x2="525.33" y2="188.7" stroke="#c8c8cb" stroke-width="2.25"/>
<line x1="453.02" y1="188.19" x2="525.33" y2="188.7" stroke="#d8d8db" stroke-width="0.9"/>
<line x1="453.02" y1="188.19" x2="452.51" y2="260.5" stroke="#c8c8cb" stroke-width="2.25"/>
<line x1="453.02" y1="188.19" x2="452.51" y2="260.5" stroke="#d8d8db" stroke-width="0.9"/>
<line x1="452.51" y1="260.5" x2="524.82" y2="261.01" stroke="#c8c8cb" stroke-width="2.25"/>
<line x1="452.51" y1="260.5" x2="524.82" y2="261.01" stroke="#d8d8db" stroke-width="0.9"/>
<line x1="452.51" y1="260.5" x2="452.01" y2="332.82" stroke="#c8c8cb" stroke-width="2.25"/>
<line x1="452.51" y1="260.5" x2="452.01" y2="332.82" stroke="#d8d8db" stroke-width="0.9"/>
<line x1="452.01" y1="332.82" x2="524.32" y2="333.32" stroke="#c8c8cb" stroke-width="2.25"/>
<line x1="452.01" y1="332.82" x2="524.32" y2="333.32" stroke="#d8d8db" stroke-width="0.9"/>
<line x1="452.01" y1="332.82" x2="451.5" y2="405.13" stroke="#c8c8cb" stroke-width="2.25"/>
<line x1="452.01" y1="332.82" x2="451.5" y2="405.13" stroke="#d8d8db" stroke-width="0.9"/>
<line x1="451.5" y1="405.13" x2="523.81" y2="405.63" stroke="#c8c8cb" stroke-width="2.25"/>
<line x1="451.5" y1="405.13" x2="523.81" y2="405.63" stroke="#d8d8db" stroke-width="0.9"/>
<line x1="525.83" y1="116.39" x2="525.33" y2="188.7" stroke="#c8c8cb" stroke-width="2.25"/>
<line x1="525.83" y1="116.39" x2="525.33" y2="188.7" stroke="#d8d8db" stroke-width="0.9"/>
<line x1="525.33" y1="188.7" x2="524.82" y2="261.01" stroke="#c8c8cb" stroke-width="2.25"/>
<line x1="525.33" y1="188.7" x2="524.82" y2="261.01" stroke="#d8d8db" stroke-width="0.9"/>
<line x1="524.82" y1="261.01" x2="524.32" y2="333.32" stroke="#c8c8cb" stroke-width="2.25"/>
<line x1="524.82" y1="261.01" x2="524.32" y2="333.32" stroke="#d8d8db" stroke-width="0.9"/>
<line x1="524.32" y1="333.32" x2="523.81" y2="405.63" stroke="#c8c8cb" stroke-width="2.25"/>
<line x1="524.32" y1="333.32" x2="523.81" y2="405.63" stroke="#d8d8db" stroke-width="0.9"/>
<circle cx="236.59" cy="114.37" r="8.8" fill="url(#N18)"/>
<circle cx="236.08" cy="186.68" r="16.08" fill="url(#Y18)"/>
<circle cx="235.58" cy="258.99" r="8.8" fill="url(#N18)"/>
<circle cx="235.07" cy="331.3" r="16.08" fill="url(#Y18)"/>
<circle cx="234.57" cy="403.61" r="8.8" fill="url(#N18)"/>
<circle cx="308.9" cy="114.87" r="16.08" fill="url(#G18)"/>
<circle cx="308.39" cy="187.18" r="8.8" fill="url(#N18)"/>
<circle cx="307.89" cy="259.5" r="16.08" fill="url(#G18)"/>
<circle cx="307.38" cy="331.81" r="8.8" fill="url(#N18)"/>
<circle cx="306.88" cy="404.12" r="16.08" fill="url(#G18)"/>
<circle cx="381.21" cy="115.38" r="8.8" fill="url(#N18)"/>
<circle cx="380.7" cy="187.69" r="16.08" fill="url(#Y18)"/>
<circle cx="380.2" cy="260" r="8.8" fill="url(#N18)"/>
<circle cx="379.7" cy="332.31" r="16.08" fill="url(#Y18)"/>
<circle cx="379.19" cy="404.62" r="8.8" fill="url(#N18)"/>
<circle cx="453.52" cy="115.88" r="16.08" fill="url(#G18)"/>
<circle cx="453.02" cy="188.19" r="8.8" fill="url(#N18)"/>
<circle cx="452.51" cy="260.5" r="16.08" fill="url(#G18)"/>
<circle cx="452.01" cy="332.82" r="8.8" fill="url(#N18)"/>
<circle cx="451.5" cy="405.13" r="16.08" fill="url(#G18)"/>
<circle cx="525.83" cy="116.39" r="8.8" fill="url(#N18)"/>
<circle cx="525.33" cy="188.7" r="16.08" fill="url(#Y18)"/>
<circle cx="524.82" cy="261.01" r="8.8" fill="url(#N18)"/>
<circle cx="524.32" cy="333.32" r="16.08" fill="url(#Y18)"/>
<circle cx="523.81" cy="405.63" r="8.8" fill="url(#N18)"/>
<line x1="236.59" y1="114.37" x2="231.55" y2="109.26" stroke="#c6c6c9" stroke-width="2.29"/>
<line x1="236.59" y1="114.37" x2="231.55" y2="109.26" stroke="#d6d6da" stroke-width="0.91"/>
<line x1="236.08" y1="186.68" x2="231.02" y2="184.11" stroke="#c6c6c9" stroke-width="2.29"/>
<line x1="236.08" y1="186.68" x2="231.02" y2="184.11" stroke="#d6d6da" stroke-width="0.91"/>
<line x1="235.58" y1="258.99" x2="230.5" y2="258.95" stroke="#c6c6c9" stroke-width="2.29"/>
<line x1="235.58" y1="258.99" x2="230.5" y2="258.95" stroke="#d6d6da" stroke-width="0.91"/>
<line x1="235.07" y1="331.3" x2="229.98" y2="333.8" stroke="#c6c6c9" stroke-width="2.29"/>
<line x1="235.07" y1="331.3" x2="229.98" y2="333.8" stroke="#d6d6da" stroke-width="0.91"/>
<line x1="234.57" y1="403.61" x2="229.46" y2="408.65" stroke="#c6c6c9" stroke-width="2.29"/>
<line x1="234.57" y1="403.61" x2="229.46" y2="408.65" stroke="#d6d6da" stroke-width="0.91"/>
<line x1="308.9" y1="114.87" x2="306.4" y2="109.78" stroke="#c6c6c9" stroke-width="2.29"/>
<line x1="308.9" y1="114.87" x2="306.4" y2="109.78" stroke="#d6d6da" stroke-width="0.91"/>
<line x1="308.39" y1="187.18" x2="305.87" y2="184.63" stroke="#c6c6c9" stroke-width="2.29"/>
<line x1="308.39" y1="187.18" x2="305.87" y2="184.63" stroke="#d6d6da" stroke-width="0.91"/>
<line x1="307.89" y1="259.5" x2="305.35" y2="259.48" stroke="#c6c6c9" stroke-width="2.29"/>
<line x1="307.89" y1="259.5" x2="305.35" y2="259.48" stroke="#d6d6da" stroke-width="0.91"/>
<line x1="307.38" y1="331.81" x2="304.83" y2="334.33" stroke="#c6c6c9" stroke-width="2.29"/>
<line x1="307.38" y1="331.81" x2="304.83" y2="334.33" stroke="#d6d6da" stroke-width="0.91"/>
<line x1="306.88" y1="404.12" x2="304.31" y2="409.18" stroke="#c6c6c9" stroke-width="2.29"/>
<line x1="306.88" y1="404.12" x2="304.31" y2="409.18" stroke="#d6d6da" stroke-width="0.91"/>
<line x1="381.21" y1="115.38" x2="381.25" y2="110.3" stroke="#c6c6c9" stroke-width="2.29"/>
<line x1="381.21" y1="115.38" x2="381.25" y2="110.3" stroke="#d6d6da" stroke-width="0.91"/>
<line x1="380.7" y1="187.69" x2="380.72" y2="185.15" stroke="#c6c6c9" stroke-width="2.29"/>
<line x1="380.7" y1="187.69" x2="380.72" y2="185.15" stroke="#d6d6da" stroke-width="0.91"/>
<line x1="380.2" y1="260" x2="380.2" y2="260" stroke="#c6c6c9" stroke-width="2.29"/>
<line x1="380.2" y1="260" x2="380.2" y2="260" stroke="#d6d6da" stroke-width="0.91"/>
<line x1="379.7" y1="332.31" x2="379.68" y2="334.85" stroke="#c6c6c9" stroke-width="2.29"/>
<line x1="379.7" y1="332.31" x2="379.68" y2="334.85" stroke="#d6d6da" stroke-width="0.91"/>
<line x1="379.19" y1="404.62" x2="379.15" y2="409.7" stroke="#c6c6c9" stroke-width="2.29"/>
<line x1="379.19" y1="404.62" x2="379.15" y2="409.7" stroke="#d6d6da" stroke-width="0.91"/>
<line x1="453.52" y1="115.88" x2="456.09" y2="110.82" stroke="#c6c6c9" stroke-width="2.29"/>
<line x1="453.52" y1="115.88" x2="456.09" y2="110.82" stroke="#d6d6da" stroke-width="0.91"/>
<line x1="453.02" y1="188.19" x2="455.57" y2="185.67" stroke="#c6c6c9" stroke-width="2.29"/>
<line x1="453.02" y1="188.19" x2="455.57" y2="185.67" stroke="#d6d6da" stroke-width="0.91"/>
<line x1="452.51" y1="260.5" x2="455.05" y2="260.52" stroke="#c6c6c9" stroke-width="2.29"/>
<line x1="452.51" y1="260.5" x2="455.05" y2="260.52" stroke="#d6d6da" stroke-width="0.91"/>
<line x1="452.01" y1="332.82" x2="454.53" y2="335.37" stroke="#c6c6c9" stroke-width="2.29"/>
<line x1="452.01" y1="332.82" x2="454.53" y2="335.37" stroke="#d6d6da" stroke-width="0.91"/>
<line x1="451.5" y1="405.13" x2="454" y2="410.22" stroke="#c6c6c9" stroke-width="2.29"/>
<line x1="451.5" y1="405.13" x2="454" y2="410.22" stroke="#d6d6da" stroke-width="0.91"/>
<line x1="525.83" y1="116.39" x2="530.94" y2="111.35" stroke="#c6c6c9" stroke-width="2.29"/>
<line x1="525.83" y1="116.39" x2="530.94" y2="111.35" stroke="#d6d6da" stroke-width="0.91"/>
<line x1="525.33" y1="188.7" x2="530.42" y2="186.2" stroke="#c6c6c9" stroke-width="2.29"/>
<line x1="525.33" y1="188.7" x2="530.42" y2="186.2" stroke="#d6d6da" stroke-width="0.91"/>
<line x1="524.82" y1="261.01" x2="529.9" y2="261.05" stroke="#c6c6c9" stroke-width="2.29"/>
<line x1="524.82" y1="261.01" x2="529.9" y2="261.05" stroke="#d6d6da" stroke-width="0.91"/>
<line x1="524.32" y1="333.32" x2="529.38" y2="335.89" stroke="#c6c6c9" stroke-width="2.29"/>
<line x1="524.32" y1="333.32" x2="529.38" y2="335.89" stroke="#d6d6da" stroke-width="0.91"/>
<line x1="523.81" y1="405.63" x2="528.85" y2="410.74" stroke="#c6c6c9" stroke-width="2.29"/>
<line x1="523.81" y1="405.63" x2="528.85" y2="410.74" stroke="#d6d6da" stroke-width="0.91"/>
<line x1="231.55" y1="109.26" x2="306.4" y2="109.78" stroke="#c4c4c8" stroke-width="2.32"/>
<line x1="231.55" y1="109.26" x2="306.4" y2="109.78" stroke="#d5d5d8" stroke-width="0.93"/>
<line x1="231.55" y1="109.26" x2="231.02" y2="184.11" stroke="#c4c4c8" stroke-width="2.32"/>
<line x1="231.55" y1="109.26" x2="231.02" y2="184.11" stroke="#d5d5d8" stroke-width="0.93"/>
<line x1="231.02" y1="184.11" x2="305.87" y2="184.63" stroke="#c4c4c8" stroke-width="2.32"/>
<line x1="231.02" y1="184.11" x2="305.87" y2="184.63" stroke="#d5d5d8" stroke-width="0.93"/>
<line x1="231.02" y1="184.11" x2="230.5" y2="258.95" stroke="#c4c4c8" stroke-width="2.32"/>
<line x1="231.02" y1="184.11" x2="230.5" y2="258.95" stroke="#d5d5d8" stroke-width="0.93"/>
<line x1="230.5" y1="258.95" x2="305.35" y2="259.48" stroke="#c4c4c8" stroke-width="2.32"/>
<line x1="230.5" y1="258.95" x2="305.35" y2="259.48" stroke="#d5d5d8" stroke-width="0.93"/>
<line x1="230.5" y1="258.95" x2="229.98" y2="333.8" stroke="#c4c4c8" stroke-width="2.32"/>
<line x1="230.5" y1="258.95" x2="229.98" y2="333.8" stroke="#d5d5d8" stroke-width="0.93"/>
<line x1="229.98" y1="333.8" x2="304.83" y2="334.33" stroke="#c4c4c8" stroke-width="2.32"/>
<line x1="229.98" y1="333.8" x2="304.83" y2="334.33" stroke="#d5d5d8" stroke-width="0.93"/>
<line x1="229.98" y1="333.8" x2="229.46" y2="408.65" stroke="#c4c4c8" stroke-width="2.32"/>
<line x1="229.98" y1="333.8" x2="229.46" y2="408.65" stroke="#d5d5d8" stroke-width="0.93"/>
<line x1="229.46" y1="408.65" x2="304.31" y2="409.18" stroke="#c4c4c8" stroke-width="2.32"/>
<line x1="229.46" y1="408.65" x2="304.31" y2="409.18" stroke="#d5d5d8" stroke-width="0.93"/>
<line x1="306.4" y1="109.78" x2="381.25" y2="110.3" stroke="#c4c4c8" stroke-width="2.32"/>
<line x1="306.4" y1="109.78" x2="381.25" y2="110.3" stroke="#d5d5d8" stroke-width="0.93"/>
<line x1="306.4" y1="109.78" x2="305.87" y2="184.63" stroke="#c4c4c8" stroke-width="2.32"/>
<line x1="306.4" y1="109.78" x2="305.87" y2="184.63" stroke="#d5d5d8" stroke-width="0.93"/>
<line x1="305.87" y1="184.63" x2="380.72" y2="185.15" stroke="#c4c4c8" stroke-width="2.32"/>
<line x1="305.87" y1="184.63" x2="380.72" y2="185.15" stroke="#d5d5d8" stroke-width="0.93"/>
<line x1="305.87" y1="184.63" x2="305.35" y2="259.48" stroke="#c4c4c8" stroke-width="2.32"/>
<line x1="305.87" y1="184.63" x2="305.35" y2="259.48" stroke="#d5d5d8" stroke-width="0.93"/>
<line x1="305.35" y1="259.48" x2="380.2" y2="260" stroke="#c4c4c8" stroke-width="2.32"/>
<line x1="305.35" y1="259.48" x2="380.2" y2="260" stroke="#d5d5d8" stroke-width="0.93"/>
<line x1="305.35" y1="259.48" x2="304.83" y2="334.33" stroke="#c4c4c8" stroke-width="2.32"/>
<line x1="305.35" y1="259.48" x2="304.83" y2="334.33" stroke="#d5d5d8" stroke-width="0.93"/>
<line x1="304.83" y1="334.33" x2="379.68" y2="334.85" stroke="#c4c4c8" stroke-width="2.32"/>
<line x1="304.83" y1="334.33" x2="379.68" y2="334.85" stroke="#d5d5d8" stroke-width="0.93"/>
<line x1="304.83" y1="334.33" x2="304.31" y2="409.18" stroke="#c4c4c8" stroke-width="2.32"/>
<line x1="304.83" y1="334.33" x2="304.31" y2="409.18" stroke="#d5d5d8" stroke-width="0.93"/>
<line x1="304.31" y1="409.18" x2="379.15" y2="409.7" stroke="#c4c4c8" stroke-width="2.32"/>
<line x1="304.31" y1="409.18" x2="379.15" y2="409.7" stroke="#d5d5d8" stroke-width="0.93"/>
<line x1="381.25" y1="110.3" x2="456.09" y2="110.82" stroke="#c4c4c8" stroke-width="2.32"/>
<line x1="381.25" y1="110.3" x2="456.09" y2="110.82" stroke="#d5d5d8" stroke-width="0.93"/>
<line x1="381.25" y1="110.3" x2="380.72" y2="185.15" stroke="#c4c4c8" stroke-width="2.32"/>
<line x1="381.25" y1="110.3" x2="380.72" y2="185.15" stroke="#d5d5d8" stroke-width="0.93"/>
<line x1="380.72" y1="185.15" x2="455.57" y2="185.67" stroke="#c4c4c8" stroke-width="2.32"/>
<line x1="380.72" y1="185.15" x2="455.57" y2="185.67" stroke="#d5d5d8" stroke-width="0.93"/>
<line x1="380.72" y1="185.15" x2="380.2" y2="260" stroke="#c4c4c8" stroke-width="2.32"/>
<line x1="380.72" y1="185.15" x2="380.2" y2="260" stroke="#d5d5d8" stroke-width="0.93"/>
<line x1="380.2" y1="260" x2="455.05" y2="260.52" stroke="#c4c4c8" stroke-width="2.32"/>
<line x1="380.2" y1="260" x2="455.05" y2="260.52" stroke="#d5d5d8" stroke-width="0.93"/>
<line x1="380.2" y1="260" x2="379.68" y2="334.85" stroke="#c4c4c8" stroke-width="2.32"/>
<line x1="380.2" y1="260" x2="379.68" y2="334.85" stroke="#d5d5d8" stroke-width="0.93"/>
<line x1="379.68" y1="334.85" x2="454.53" y2="335.37" stroke="#c4c4c8" stroke-width="2.32"/>
<line x1="379.68" y1="334.85" x2="454.53" y2="335.37" stroke="#d5d5d8" stroke-width="0.93"/>
<line x1="379.68" y1="334.85" x2="379.15" y2="409.7" stroke="#c4c4c8" stroke-width="2.32"/>
<line x1="379.68" y1="334.85" x2="379.15" y2="409.7" stroke="#d5d5d8" stroke-width="0.93"/>
<line x1="379.15" y1="409.7" x2="454" y2="410.22" stroke="#c4c4c8" stroke-width="2.32"/>
<line x1="379.15" y1="409.7" x2="454" y2="410.22" stroke="#d5d5d8" stroke-width="0.93"/>
<line x1="456.09" y1="110.82" x2="530.94" y2="111.35" stroke="#c4c4c8" stroke-width="2.32"/>
<line x1="456.09" y1="110.82" x2="530.94" y2="111.35" stroke="#d5d5d8" stroke-width="0.93"/>
<line x1="456.09" y1="110.82" x2="455.57" y2="185.67" stroke="#c4c4c8" stroke-width="2.32"/>
<line x1="456.09" y1="110.82" x2="455.57" y2="185.67" stroke="#d5d5d8" stroke-width="0.93"/>
<line x1="455.57" y1="185.67" x2="530.42" y2="186.2" stroke="#c4c4c8" stroke-width="2.32"/>
<line x1="455.57" y1="185.67" x2="530.42" y2="186.2" stroke="#d5d5d8" stroke-width="0.93"/>
<line x1="455.57" y1="185.67" x2="455.05" y2="260.52" stroke="#c4c4c8" stroke-width="2.32"/>
<line x1="455.57" y1="185.67" x2="455.05" y2="260.52" stroke="#d5d5d8" stroke-width="0.93"/>
<line x1="455.05" y1="260.52" x2="529.9" y2="261.05" stroke="#c4c4c8" stroke-width="2.32"/>
<line x1="455.05" y1="260.52" x2="529.9" y2="261.05" stroke="#d5d5d8" stroke-width="0.93"/>
<line x1="455.05" y1="260.52" x2="454.53" y2="335.37" stroke="#c4c4c8" stroke-width="2.32"/>
<line x1="455.05" y1="260.52" x2="454.53" y2="335.37" stroke="#d5d5d8" stroke-width="0.93"/>
<line x1="454.53" y1="335.37" x2="529.38" y2="335.89" stroke="#c4c4c8" stroke-width="2.32"/>
<line x1="454.53" y1="335.37" x2="529.38" y2="335.89" stroke="#d5d5d8" stroke-width="0.93"/>
<line x1="454.53" y1="335.37" x2="454" y2="410.22" stroke="#c4c4c8" stroke-width="2.32"/>
<line x1="454.53" y1="335.37" x2="454" y2="410.22" stroke="#d5d5d8" stroke-width="0.93"/>
<line x1="454" y1="410.22" x2="528.85" y2="410.74" stroke="#c4c4c8" stroke-width="2.32"/>
<line x1="454" y1="410.22" x2="528.85" y2="410.74" stroke="#d5d5d8" stroke-width="0.93"/>
<line x1="530.94" y1="111.35" x2="530.42" y2="186.2" stroke="#c4c4c8" stroke-width="2.32"/>
<line x1="530.94" y1="111.35" x2="530.42" y2="186.2" stroke="#d5d5d8" stroke-width="0.93"/>
<line x1="530.42" y1="186.2" x2="529.9" y2="261.05" stroke="#c4c4c8" stroke-width="2.32"/>
<line x1="530.42" y1="186.2" x2="529.9" y2="261.05" stroke="#d5d5d8" stroke-width="0.93"/>
<line x1="529.9" y1="261.05" x2="529.38" y2="335.89" stroke="#c4c4c8" stroke-width="2.32"/>
<line x1="529.9" y1="261.05" x2="529.38" y2="335.89" stroke="#d5d5d8" stroke-width="0.93"/>
<line x1="529.38" y1="335.89" x2="528.85" y2="410.74" stroke="#c4c4c8" stroke-width="2.32"/>
<line x1="529.38" y1="335.89" x2="528.85" y2="410.74" stroke="#d5d5d8" stroke-width="0.93"/>
<circle cx="231.55" cy="109.26" r="16.64" fill="url(#G12)"/>
<circle cx="231.02" cy="184.11" r="9.11" fill="url(#N12)"/>
<circle cx="230.5" cy="258.95" r="16.64" fill="url(#G12)"/>
<circle cx="229.98" cy="333.8" r="9.11" fill="url(#N12)"/>
<circle cx="229.46" cy="408.65" r="16.64" fill="url(#G12)"/>
<circle cx="306.4" cy="109.78" r="9.11" fill="url(#N12)"/>
<circle cx="305.87" cy="184.63" r="16.64" fill="url(#Y12)"/>
<circle cx="305.35" cy="259.48" r="9.11" fill="url(#N12)"/>
<circle cx="304.83" cy="334.33" r="16.64" fill="url(#Y12)"/>
<circle cx="304.31" cy="409.18" r="9.11" fill="url(#N12)"/>
<circle cx="381.25" cy="110.3" r="16.64" fill="url(#G12)"/>
<circle cx="380.72" cy="185.15" r="9.11" fill="url(#N12)"/>
<circle cx="380.2" cy="260" r="16.64" fill="url(#G12)"/>
<circle cx="379.68" cy="334.85" r="9.11" fill="url(#N12)"/>
<circle cx="379.15" cy="409.7" r="16.64" fill="url(#G12)"/>
<circle cx="456.09" cy="110.82" r="9.11" fill="url(#N12)"/>
<circle cx="455.57" cy="185.67" r="16.64" fill="url(#Y12)"/>
<circle cx="455.05" cy="260.52" r="9.11" fill="url(#N12)"/>
<circle cx="454.53" cy="335.37" r="16.64" fill="url(#Y12)"/>
<circle cx="454" cy="410.22" r="9.11" fill="url(#N12)"/>
<circle cx="530.94" cy="111.35" r="16.64" fill="url(#G12)"/>
<circle cx="530.42" cy="186.2" r="9.11" fill="url(#N12)"/>
<circle cx="529.9" cy="261.05" r="16.64" fill="url(#G12)"/>
<circle cx="529.38" cy="335.89" r="9.11" fill="url(#N12)"/>
<circle cx="528.85" cy="410.74" r="16.64" fill="url(#G12)"/>
<line x1="231.55" y1="109.26" x2="226.14" y2="103.78" stroke="#c2c2c6" stroke-width="2.37"/>
<line x1="231.55" y1="109.26" x2="226.14" y2="103.78" stroke="#d3d3d7" stroke-width="0.95"/>
<line x1="231.02" y1="184.11" x2="225.6" y2="181.35" stroke="#c2c2c6" stroke-width="2.37"/>
<line x1="231.02" y1="184.11" x2="225.6" y2="181.35" stroke="#d3d3d7" stroke-width="0.95"/>
<line x1="230.5" y1="258.95" x2="225.06" y2="258.92" stroke="#c2c2c6" stroke-width="2.37"/>
<line x1="230.5" y1="258.95" x2="225.06" y2="258.92" stroke="#d3d3d7" stroke-width="0.95"/>
<line x1="229.98" y1="333.8" x2="224.52" y2="336.49" stroke="#c2c2c6" stroke-width="2.37"/>
<line x1="229.98" y1="333.8" x2="224.52" y2="336.49" stroke="#d3d3d7" stroke-width="0.95"/>
<line x1="229.46" y1="408.65" x2="223.98" y2="414.06" stroke="#c2c2c6" stroke-width="2.37"/>
<line x1="229.46" y1="408.65" x2="223.98" y2="414.06" stroke="#d3d3d7" stroke-width="0.95"/>
<line x1="306.4" y1="109.78" x2="303.71" y2="104.32" stroke="#c2c2c6" stroke-width="2.37"/>
<line x1="306.4" y1="109.78" x2="303.71" y2="104.32" stroke="#d3d3d7" stroke-width="0.95"/>
<line x1="305.87" y1="184.63" x2="303.17" y2="181.89" stroke="#c2c2c6" stroke-width="2.37"/>
<line x1="305.87" y1="184.63" x2="303.17" y2="181.89" stroke="#d3d3d7" stroke-width="0.95"/>
<line x1="305.35" y1="259.48" x2="302.63" y2="259.46" stroke="#c2c2c6" stroke-width="2.37"/>
<line x1="305.35" y1="259.48" x2="302.63" y2="259.46" stroke="#d3d3d7" stroke-width="0.95"/>
<line x1="304.83" y1="334.33" x2="302.09" y2="337.03" stroke="#c2c2c6" stroke-width="2.37"/>
<line x1="304.83" y1="334.33" x2="302.09" y2="337.03" stroke="#d3d3d7" stroke-width="0.95"/>
<line x1="304.31" y1="409.18" x2="301.55" y2="414.6" stroke="#c2c2c6" stroke-width="2.37"/>
<line x1="304.31" y1="409.18" x2="301.55" y2="414.6" stroke="#d3d3d7" stroke-width="0.95"/>
<line x1="381.25" y1="110.3" x2="381.28" y2="104.86" stroke="#c2c2c6" stroke-width="2.37"/>
<line x1="381.25" y1="110.3" x2="381.28" y2="104.86" stroke="#d3d3d7" stroke-width="0.95"/>
<line x1="380.72" y1="185.15" x2="380.74" y2="182.43" stroke="#c2c2c6" stroke-width="2.37"/>
<line x1="380.72" y1="185.15" x2="380.74" y2="182.43" stroke="#d3d3d7" stroke-width="0.95"/>
<line x1="380.2" y1="260" x2="380.2" y2="260" stroke="#c2c2c6" stroke-width="2.37"/>
<line x1="380.2" y1="260" x2="380.2" y2="260" stroke="#d3d3d7" stroke-width="0.95"/>
<line x1="379.68" y1="334.85" x2="379.66" y2="337.57" stroke="#c2c2c6" stroke-width="2.37"/>
<line x1="379.68" y1="334.85" x2="379.66" y2="337.57" stroke="#d3d3d7" stroke-width="0.95"/>
<line x1="379.15" y1="409.7" x2="379.12" y2="415.14" stroke="#c2c2c6" stroke-width="2.37"/>
<line x1="379.15" y1="409.7" x2="379.12" y2="415.14" stroke="#d3d3d7" stroke-width="0.95"/>
<line x1="456.09" y1="110.82" x2="458.85" y2="105.4" stroke="#c2c2c6" stroke-width="2.37"/>
<line x1="456.09" y1="110.82" x2="458.85" y2="105.4" stroke="#d3d3d7" stroke-width="0.95"/>
<line x1="455.57" y1="185.67" x2="458.31" y2="182.97" stroke="#c2c2c6" stroke-width="2.37"/>
<line x1="455.57" y1="185.67" x2="458.31" y2="182.97" stroke="#d3d3d7" stroke-width="0.95"/>
<line x1="455.05" y1="260.52" x2="457.77" y2="260.54" stroke="#c2c2c6" stroke-width="2.37"/>
<line x1="455.05" y1="260.52" x2="457.77" y2="260.54" stroke="#d3d3d7" stroke-width="0.95"/>
<line x1="454.53" y1="335.37" x2="457.23" y2="338.11" stroke="#c2c2c6" stroke-width="2.37"/>
<line x1="454.53" y1="335.37" x2="457.23" y2="338.11" stroke="#d3d3d7" stroke-width="0.95"/>
<line x1="454" y1="410.22" x2="456.69" y2="415.68" stroke="#c2c2c6" stroke-width="2.37"/>
<line x1="454" y1="410.22" x2="456.69" y2="415.68" stroke="#d3d3d7" stroke-width="0.95"/>
<line x1="530.94" y1="111.35" x2="536.42" y2="105.94" stroke="#c2c2c6" stroke-width="2.37"/>
<line x1="530.94" y1="111.35" x2="536.42" y2="105.94" stroke="#d3d3d7" stroke-width="0.95"/>
<line x1="530.42" y1="186.2" x2="535.88" y2="183.51" stroke="#c2c2c6" stroke-width="2.37"/>
<line x1="530.42" y1="186.2" x2="535.88" y2="183.51" stroke="#d3d3d7" stroke-width="0.95"/>
<line x1="529.9" y1="261.05" x2="535.34" y2="261.08" stroke="#c2c2c6" stroke-width="2.37"/>
<line x1="529.9" y1="261.05" x2="535.34" y2="261.08" stroke="#d3d3d7" stroke-width="0.95"/>
<line x1="529.38" y1="335.89" x2="534.8" y2="338.65" stroke="#c2c2c6" stroke-width="2.37"/>
<line x1="529.38" y1="335.89" x2="534.8" y2="338.65" stroke="#d3d3d7" stroke-width="0.95"/>
<line x1="528.85" y1="410.74" x2="534.26" y2="416.22" stroke="#c2c2c6" stroke-width="2.37"/>
<line x1="528.85" y1="410.74" x2="534.26" y2="416.22" stroke="#d3d3d7" stroke-width="0.95"/>
<line x1="226.14" y1="103.78" x2="303.71" y2="104.32" stroke="#c0c0c4" stroke-width="2.41"/>
<line x1="226.14" y1="103.78" x2="303.71" y2="104.32" stroke="#d2d2d6" stroke-width="0.96"/>
<line x1="226.14" y1="103.78" x2="225.6" y2="181.35" stroke="#c0c0c4" stroke-width="2.41"/>
<line x1="226.14" y1="103.78" x2="225.6" y2="181.35" stroke="#d2d2d6" stroke-width="0.96"/>
<line x1="225.6" y1="181.35" x2="303.17" y2="181.89" stroke="#c0c0c4" stroke-width="2.41"/>
<line x1="225.6" y1="181.35" x2="303.17" y2="181.89" stroke="#d2d2d6" stroke-width="0.96"/>
<line x1="225.6" y1="181.35" x2="225.06" y2="258.92" stroke="#c0c0c4" stroke-width="2.41"/>
<line x1="225.6" y1="181.35" x2="225.06" y2="258.92" stroke="#d2d2d6" stroke-width="0.96"/>
<line x1="225.06" y1="258.92" x2="302.63" y2="259.46" stroke="#c0c0c4" stroke-width="2.41"/>
<line x1="225.06" y1="258.92" x2="302.63" y2="259.46" stroke="#d2d2d6" stroke-width="0.96"/>
<line x1="225.06" y1="258.92" x2="224.52" y2="336.49" stroke="#c0c0c4" stroke-width="2.41"/>
<line x1="225.06" y1="258.92" x2="224.52" y2="336.49" stroke="#d2d2d6" stroke-width="0.96"/>
<line x1="224.52" y1="336.49" x2="302.09" y2="337.03" stroke="#c0c0c4" stroke-width="2.41"/>
<line x1="224.52" y1="336.49" x2="302.09" y2="337.03" stroke="#d2d2d6" stroke-width="0.96"/>
<line x1="224.52" y1="336.49" x2="223.98" y2="414.06" stroke="#c0c0c4" stroke-width="2.41"/>
<line x1="224.52" y1="336.49" x2="223.98" y2="414.06" stroke="#d2d2d6" stroke-width="0.96"/>
<line x1="223.98" y1="414.06" x2="301.55" y2="414.6" stroke="#c0c0c4" stroke-width="2.41"/>
<line x1="223.98" y1="414.06" x2="301.55" y2="414.6" stroke="#d2d2d6" stroke-width="0.96"/>
<line x1="303.71" y1="104.32" x2="381.28" y2="104.86" stroke="#c0c0c4" stroke-width="2.41"/>
<line x1="303.71" y1="104.32" x2="381.28" y2="104.86" stroke="#d2d2d6" stroke-width="0.96"/>
<line x1="303.71" y1="104.32" x2="303.17" y2="181.89" stroke="#c0c0c4" stroke-width="2.41"/>
<line x1="303.71" y1="104.32" x2="303.17" y2="181.89" stroke="#d2d2d6" stroke-width="0.96"/>
<line x1="303.17" y1="181.89" x2="380.74" y2="182.43" stroke="#c0c0c4" stroke-width="2.41"/>
<line x1="303.17" y1="181.89" x2="380.74" y2="182.43" stroke="#d2d2d6" stroke-width="0.96"/>
<line x1="303.17" y1="181.89" x2="302.63" y2="259.46" stroke="#c0c0c4" stroke-width="2.41"/>
<line x1="303.17" y1="181.89" x2="302.63" y2="259.46" stroke="#d2d2d6" stroke-width="0.96"/>
<line x1="302.63" y1="259.46" x2="380.2" y2="260" stroke="#c0c0c4" stroke-width="2.41"/>
<line x1="302.63" y1="259.46" x2="380.2" y2="260" stroke="#d2d2d6" stroke-width="0.96"/>
<line x1="302.63" y1="259.46" x2="302.09" y2="337.03" stroke="#c0c0c4" stroke-width="2.41"/>
<line x1="302.63" y1="259.46" x2="302.09" y2="337.03" stroke="#d2d2d6" stroke-width="0.96"/>
<line x1="302.09" y1="337.03" x2="379.66" y2="337.57" stroke="#c0c0c4" stroke-width="2.41"/>
<line x1="302.09" y1="337.03" x2="379.66" y2="337.57" stroke="#d2d2d6" stroke-width="0.96"/>
<line x1="302.09" y1="337.03" x2="301.55" y2="414.6" stroke="#c0c0c4" stroke-width="2.41"/>
<line x1="302.09" y1="337.03" x2="301.55" y2="414.6" stroke="#d2d2d6" stroke-width="0.96"/>
<line x1="301.55" y1="414.6" x2="379.12" y2="415.14" stroke="#c0c0c4" stroke-width="2.41"/>
<line x1="301.55" y1="414.6" x2="379.12" y2="415.14" stroke="#d2d2d6" stroke-width="0.96"/>
<line x1="381.28" y1="104.86" x2="458.85" y2="105.4" stroke="#c0c0c4" stroke-width="2.41"/>
<line x1="381.28" y1="104.86" x2="458.85" y2="105.4" stroke="#d2d2d6" stroke-width="0.96"/>
<line x1="381.28" y1="104.86" x2="380.74" y2="182.43" stroke="#c0c0c4" stroke-width="2.41"/>
<line x1="381.28" y1="104.86" x2="380.74" y2="182.43" stroke="#d2d2d6" stroke-width="0.96"/>
<line x1="380.74" y1="182.43" x2="458.31" y2="182.97" stroke="#c0c0c4" stroke-width="2.41"/>
<line x1="380.74" y1="182.43" x2="458.31" y2="182.97" stroke="#d2d2d6" stroke-width="0.96"/>
<line x1="380.74" y1="182.43" x2="380.2" y2="260" stroke="#c0c0c4" stroke-width="2.41"/>
<line x1="380.74" y1="182.43" x2="380.2" y2="260" stroke="#d2d2d6" stroke-width="0.96"/>
<line x1="380.2" y1="260" x2="457.77" y2="260.54" stroke="#c0c0c4" stroke-width="2.41"/>
<line x1="380.2" y1="260" x2="457.77" y2="260.54" stroke="#d2d2d6" stroke-width="0.96"/>
<line x1="380.2" y1="260" x2="379.66" y2="337.57" stroke="#c0c0c4" stroke-width="2.41"/>
<line x1="380.2" y1="260" x2="379.66" y2="337.57" stroke="#d2d2d6" stroke-width="0.96"/>
<line x1="379.66" y1="337.57" x2="457.23" y2="338.11" stroke="#c0c0c4" stroke-width="2.41"/>
<line x1="379.66" y1="337.57" x2="457.23" y2="338.11" stroke="#d2d2d6" stroke-width="0.96"/>
<line x1="379.66" y1="337.57" x2="379.12" y2="415.14" stroke="#c0c0c4" stroke-width="2.41"/>
<line x1="379.66" y1="337.57" x2="379.12" y2="415.14" stroke="#d2d2d6" stroke-width="0.96"/>
<line x1="379.12" y1="415.14" x2="456.69" y2="415.68" stroke="#c0c0c4" stroke-width="2.41"/>
<line x1="379.12" y1="415.14" x2="456.69" y2="415.68" stroke="#d2d2d6" stroke-width="0.96"/>
<line x1="458.85" y1="105.4" x2="536.42" y2="105.94" stroke="#c0c0c4" stroke-width="2.41"/>
<line x1="458.85" y1="105.4" x2="536.42" y2="105.94" stroke="#d2d2d6" stroke-width="0.96"/>
<line x1="458.85" y1="105.4" x2="458.31" y2="182.97" stroke="#c0c0c4" stroke-width="2.41"/>
<line x1="458.85" y1="105.4" x2="458.31" y2="182.97" stroke="#d2d2d6" stroke-width="0.96"/>
<line x1="458.31" y1="182.97" x2="535.88" y2="183.51" stroke="#c0c0c4" stroke-width="2.41"/>
<line x1="458.31" y1="182.97" x2="535.88" y2="183.51" stroke="#d2d2d6" stroke-width="0.96"/>
<line x1="458.31" y1="182.97" x2="457.77" y2="260.54" stroke="#c0c0c4" stroke-width="2.41"/>
<line x1="458.31" y1="182.97" x2="457.77" y2="260.54" stroke="#d2d2d6" stroke-width="0.96"/>
<line x1="457.77" y1="260.54" x2="535.34" y2="261.08" stroke="#c0c0c4" stroke-width="2.41"/>
<line x1="457.77" y1="260.54" x2="535.34" y2="261.08" stroke="#d2d2d6" stroke-width="0.96"/>
<line x1="457.77" y1="260.54" x2="457.23" y2="338.11" stroke="#c0c0c4" stroke-width="2.41"/>
<line x1="457.77" y1="260.54" x2="457.23" y2="338.11" stroke="#d2d2d6" stroke-width="0.96"/>
<line x1="457.23" y1="338.11" x2="534.8" y2="338.65" stroke="#c0c0c4" stroke-width="2.41"/>
<line x1="457.23" y1="338.11" x2="534.8" y2="338.65" stroke="#d2d2d6" stroke-width="0.96"/>
<line x1="457.23" y1="338.11" x2="456.69" y2="415.68" stroke="#c0c0c4" stroke-width="2.41"/>
<line x1="457.23" y1="338.11" x2="456.69" y2="415.68" stroke="#d2d2d6" stroke-width="0.96"/>
<line x1="456.69" y1="415.68" x2="534.26" y2="416.22" stroke="#c0c0c4" stroke-width="2.41"/>
<line x1="456.69" y1="415.68" x2="534.26" y2="416.22" stroke="#d2d2d6" stroke-width="0.96"/>
<line x1="536.42" y1="105.94" x2="535.88" y2="183.51" stroke="#c0c0c4" stroke-width="2.41"/>
<line x1="536.42" y1="105.94" x2="535.88" y2="183.51" stroke="#d2d2d6" stroke-width="0.96"/>
<line x1="535.88" y1="183.51" x2="535.34" y2="261.08" stroke="#c0c0c4" stroke-width="2.41"/>
<line x1="535.88" y1="183.51" x2="535.34" y2="261.08" stroke="#d2d2d6" stroke-width="0.96"/>
<line x1="535.34" y1="261.08" x2="534.8" y2="338.65" stroke="#c0c0c4" stroke-width="2.41"/>
<line x1="535.34" y1="261.08" x2="534.8" y2="338.65" stroke="#d2d2d6" stroke-width="0.96"/>
<line x1="534.8" y1="338.65" x2="534.26" y2="416.22" stroke="#c0c0c4" stroke-width="2.41"/>
<line x1="534.8" y1="338.65" x2="534.26" y2="416.22" stroke="#d2d2d6" stroke-width="0.96"/>
<circle cx="226.14" cy="103.78" r="9.44" fill="url(#N6)"/>
<circle cx="225.6" cy="181.35" r="17.25" fill="url(#Y6)"/>
<circle cx="225.06" cy="258.92" r="9.44" fill="url(#N6)"/>
<circle cx="224.52" cy="336.49" r="17.25" fill="url(#Y6)"/>
<circle cx="223.98" cy="414.06" r="9.44" fill="url(#N6)"/>
<circle cx="303.71" cy="104.32" r="17.25" fill="url(#G6)"/>
<circle cx="303.17" cy="181.89" r="9.44" fill="url(#N6)"/>
<circle cx="302.63" cy="259.46" r="17.25" fill="url(#G6)"/>
<circle cx="302.09" cy="337.03" r="9.44" fill="url(#N6)"/>
<circle cx="301.55" cy="414.6" r="17.25" fill="url(#G6)"/>
<circle cx="381.28" cy="104.86" r="9.44" fill="url(#N6)"/>
<circle cx="380.74" cy="182.43" r="17.25" fill="url(#Y6)"/>
<circle cx="380.2" cy="260" r="9.44" fill="url(#N6)"/>
<circle cx="379.66" cy="337.57" r="17.25" fill="url(#Y6)"/>
<circle cx="379.12" cy="415.14" r="9.44" fill="url(#N6)"/>
<circle cx="458.85" cy="105.4" r="17.25" fill="url(#G6)"/>
<circle cx="458.31" cy="182.97" r="9.44" fill="url(#N6)"/>
<circle cx="457.77" cy="260.54" r="17.25" fill="url(#G6)"/>
<circle cx="457.23" cy="338.11" r="9.44" fill="url(#N6)"/>
<circle cx="456.69" cy="415.68" r="17.25" fill="url(#G6)"/>
<circle cx="536.42" cy="105.94" r="9.44" fill="url(#N6)"/>
<circle cx="535.88" cy="183.51" r="17.25" fill="url(#Y6)"/>
<circle cx="535.34" cy="261.08" r="9.44" fill="url(#N6)"/>
<circle cx="534.8" cy="338.65" r="17.25" fill="url(#Y6)"/>
<circle cx="534.26" cy="416.22" r="9.44" fill="url(#N6)"/>
<line x1="226.14" y1="103.78" x2="220.33" y2="97.88" stroke="#bebec2" stroke-width="2.45"/>
<line x1="226.14" y1="103.78" x2="220.33" y2="97.88" stroke="#d0d0d4" stroke-width="0.98"/>
<line x1="225.6" y1="181.35" x2="219.77" y2="178.38" stroke="#bebec2" stroke-width="2.45"/>
<line x1="225.6" y1="181.35" x2="219.77" y2="178.38" stroke="#d0d0d4" stroke-width="0.98"/>
<line x1="225.06" y1="258.92" x2="219.2" y2="258.88" stroke="#bebec2" stroke-width="2.45"/>
<line x1="225.06" y1="258.92" x2="219.2" y2="258.88" stroke="#d0d0d4" stroke-width="0.98"/>
<line x1="224.52" y1="336.49" x2="218.64" y2="339.37" stroke="#bebec2" stroke-width="2.45"/>
<line x1="224.52" y1="336.49" x2="218.64" y2="339.37" stroke="#d0d0d4" stroke-width="0.98"/>
<line x1="223.98" y1="414.06" x2="218.08" y2="419.87" stroke="#bebec2" stroke-width="2.45"/>
<line x1="223.98" y1="414.06" x2="218.08" y2="419.87" stroke="#d0d0d4" stroke-width="0.98"/>
<line x1="303.71" y1="104.32" x2="300.83" y2="98.44" stroke="#bebec2" stroke-width="2.45"/>
<line x1="303.71" y1="104.32" x2="300.83" y2="98.44" stroke="#d0d0d4" stroke-width="0.98"/>
<line x1="303.17" y1="181.89" x2="300.26" y2="178.94" stroke="#bebec2" stroke-width="2.45"/>
<line x1="303.17" y1="181.89" x2="300.26" y2="178.94" stroke="#d0d0d4" stroke-width="0.98"/>
<line x1="302.63" y1="259.46" x2="299.7" y2="259.44" stroke="#bebec2" stroke-width="2.45"/>
<line x1="302.63" y1="259.46" x2="299.7" y2="259.44" stroke="#d0d0d4" stroke-width="0.98"/>
<line x1="302.09" y1="337.03" x2="299.14" y2="339.94" stroke="#bebec2" stroke-width="2.45"/>
<line x1="302.09" y1="337.03" x2="299.14" y2="339.94" stroke="#d0d0d4" stroke-width="0.98"/>
<line x1="301.55" y1="414.6" x2="298.58" y2="420.43" stroke="#bebec2" stroke-width="2.45"/>
<line x1="301.55" y1="414.6" x2="298.58" y2="420.43" stroke="#d0d0d4" stroke-width="0.98"/>
<line x1="381.28" y1="104.86" x2="381.32" y2="99" stroke="#bebec2" stroke-width="2.45"/>
<line x1="381.28" y1="104.86" x2="381.32" y2="99" stroke="#d0d0d4" stroke-width="0.98"/>
<line x1="380.74" y1="182.43" x2="380.76" y2="179.5" stroke="#bebec2" stroke-width="2.45"/>
<line x1="380.74" y1="182.43" x2="380.76" y2="179.5" stroke="#d0d0d4" stroke-width="0.98"/>
<line x1="380.2" y1="260" x2="380.2" y2="260" stroke="#bebec2" stroke-width="2.45"/>
<line x1="380.2" y1="260" x2="380.2" y2="260" stroke="#d0d0d4" stroke-width="0.98"/>
<line x1="379.66" y1="337.57" x2="379.64" y2="340.5" stroke="#bebec2" stroke-width="2.45"/>
<line x1="379.66" y1="337.57" x2="379.64" y2="340.5" stroke="#d0d0d4" stroke-width="0.98"/>
<line x1="379.12" y1="415.14" x2="379.08" y2="421" stroke="#bebec2" stroke-width="2.45"/>
<line x1="379.12" y1="415.14" x2="379.08" y2="421" stroke="#d0d0d4" stroke-width="0.98"/>
<line x1="458.85" y1="105.4" x2="461.82" y2="99.57" stroke="#bebec2" stroke-width="2.45"/>
<line x1="458.85" y1="105.4" x2="461.82" y2="99.57" stroke="#d0d0d4" stroke-width="0.98"/>
<line x1="458.31" y1="182.97" x2="461.26" y2="180.06" stroke="#bebec2" stroke-width="2.45"/>
<line x1="458.31" y1="182.97" x2="461.26" y2="180.06" stroke="#d0d0d4" stroke-width="0.98"/>
<line x1="457.77" y1="260.54" x2="460.7" y2="260.56" stroke="#bebec2" stroke-width="2.45"/>
<line x1="457.77" y1="260.54" x2="460.7" y2="260.56" stroke="#d0d0d4" stroke-width="0.98"/>
<line x1="457.23" y1="338.11" x2="460.14" y2="341.06" stroke="#bebec2" stroke-width="2.45"/>
<line x1="457.23" y1="338.11" x2="460.14" y2="341.06" stroke="#d0d0d4" stroke-width="0.98"/>
<line x1="456.69" y1="415.68" x2="459.57" y2="421.56" stroke="#bebec2" stroke-width="2.45"/>
<line x1="456.69" y1="415.68" x2="459.57" y2="421.56" stroke="#d0d0d4" stroke-width="0.98"/>
<line x1="536.42" y1="105.94" x2="542.32" y2="100.13" stroke="#bebec2" stroke-width="2.45"/>
<line x1="536.42" y1="105.94" x2="542.32" y2="100.13" stroke="#d0d0d4" stroke-width="0.98"/>
<line x1="535.88" y1="183.51" x2="541.76" y2="180.63" stroke="#bebec2" stroke-width="2.45"/>
<line x1="535.88" y1="183.51" x2="541.76" y2="180.63" stroke="#d0d0d4" stroke-width="0.98"/>
<line x1="535.34" y1="261.08" x2="541.2" y2="261.12" stroke="#bebec2" stroke-width="2.45"/>
<line x1="535.34" y1="261.08" x2="541.2" y2="261.12" stroke="#d0d0d4" stroke-width="0.98"/>
<line x1="534.8" y1="338.65" x2="540.63" y2="341.62" stroke="#bebec2" stroke-width="2.45"/>
<line x1="534.8" y1="338.65" x2="540.63" y2="341.62" stroke="#d0d0d4" stroke-width="0.98"/>
<line x1="534.26" y1="416.22" x2="540.07" y2="422.12" stroke="#bebec2" stroke-width="2.45"/>
<line x1="534.26" y1="416.22" x2="540.07" y2="422.12" stroke="#d0d0d4" stroke-width="0.98"/>
<line x1="220.33" y1="97.88" x2="300.83" y2="98.44" stroke="#bcbcc0" stroke-width="2.5"/>
<line x1="220.33" y1="97.88" x2="300.83" y2="98.44" stroke="#cfcfd3" stroke-width="1"/>
<line x1="220.33" y1="97.88" x2="219.77" y2="178.38" stroke="#bcbcc0" stroke-width="2.5"/>
<line x1="220.33" y1="97.88" x2="219.77" y2="178.38" stroke="#cfcfd3" stroke-width="1"/>
<line x1="219.77" y1="178.38" x2="300.26" y2="178.94" stroke="#bcbcc0" stroke-width="2.5"/>
<line x1="219.77" y1="178.38" x2="300.26" y2="178.94" stroke="#cfcfd3" stroke-width="1"/>
<line x1="219.77" y1="178.38" x2="219.2" y2="258.88" stroke="#bcbcc0" stroke-width="2.5"/>
<line x1="219.77" y1="178.38" x2="219.2" y2="258.88" stroke="#cfcfd3" stroke-width="1"/>
<line x1="219.2" y1="258.88" x2="299.7" y2="259.44" stroke="#bcbcc0" stroke-width="2.5"/>
<line x1="219.2" y1="258.88" x2="299.7" y2="259.44" stroke="#cfcfd3" stroke-width="1"/>
<line x1="219.2" y1="258.88" x2="218.64" y2="339.37" stroke="#bcbcc0" stroke-width="2.5"/>
<line x1="219.2" y1="258.88" x2="218.64" y2="339.37" stroke="#cfcfd3" stroke-width="1"/>
<line x1="218.64" y1="339.37" x2="299.14" y2="339.94" stroke="#bcbcc0" stroke-width="2.5"/>
<line x1="218.64" y1="339.37" x2="299.14" y2="339.94" stroke="#cfcfd3" stroke-width="1"/>
<line x1="218.64" y1="339.37" x2="218.08" y2="419.87" stroke="#bcbcc0" stroke-width="2.5"/>
<line x1="218.64" y1="339.37" x2="218.08" y2="419.87" stroke="#cfcfd3" stroke-width="1"/>
<line x1="218.08" y1="419.87" x2="298.58" y2="420.43" stroke="#bcbcc0" stroke-width="2.5"/>
<line x1="218.08" y1="419.87" x2="298.58" y2="420.43" stroke="#cfcfd3" stroke-width="1"/>
<line x1="300.83" y1="98.44" x2="381.32" y2="99" stroke="#bcbcc0" stroke-width="2.5"/>
<line x1="300.83" y1="98.44" x2="381.32" y2="99" stroke="#cfcfd3" stroke-width="1"/>
<line x1="300.83" y1="98.44" x2="300.26" y2="178.94" stroke="#bcbcc0" stroke-width="2.5"/>
<line x1="300.83" y1="98.44" x2="300.26" y2="178.94" stroke="#cfcfd3" stroke-width="1"/>
<line x1="300.26" y1="178.94" x2="380.76" y2="179.5" stroke="#bcbcc0" stroke-width="2.5"/>
<line x1="300.26" y1="178.94" x2="380.76" y2="179.5" stroke="#cfcfd3" stroke-width="1"/>
<line x1="300.26" y1="178.94" x2="299.7" y2="259.44" stroke="#bcbcc0" stroke-width="2.5"/>
<line x1="300.26" y1="178.94" x2="299.7" y2="259.44" stroke="#cfcfd3" stroke-width="1"/>
<line x1="299.7" y1="259.44" x2="380.2" y2="260" stroke="#bcbcc0" stroke-width="2.5"/>
<line x1="299.7" y1="259.44" x2="380.2" y2="260" stroke="#cfcfd3" stroke-width="1"/>
<line x1="299.7" y1="259.44" x2="299.14" y2="339.94" stroke="#bcbcc0" stroke-width="2.5"/>
<line x1="299.7" y1="259.44" x2="299.14" y2="339.94" stroke="#cfcfd3" stroke-width="1"/>
<line x1="299.14" y1="339.94" x2="379.64" y2="340.5" stroke="#bcbcc0" stroke-width="2.5"/>
<line x1="299.14" y1="339.94" x2="379.64" y2="340.5" stroke="#cfcfd3" stroke-width="1"/>
<line x1="299.14" y1="339.94" x2="298.58" y2="420.43" stroke="#bcbcc0" stroke-width="2.5"/>
<line x1="299.14" y1="339.94" x2="298.58" y2="420.43" stroke="#cfcfd3" stroke-width="1"/>
<line x1="298.58" y1="420.43" x2="379.08" y2="421" stroke="#bcbcc0" stroke-width="2.5"/>
<line x1="298.58" y1="420.43" x2="379.08" y2="421" stroke="#cfcfd3" stroke-width="1"/>
<line x1="381.32" y1="99" x2="461.82" y2="99.57" stroke="#bcbcc0" stroke-width="2.5"/>
<line x1="381.32" y1="99" x2="461.82" y2="99.57" stroke="#cfcfd3" stroke-width="1"/>
<line x1="381.32" y1="99" x2="380.76" y2="179.5" stroke="#bcbcc0" stroke-width="2.5"/>
<line x1="381.32" y1="99" x2="380.76" y2="179.5" stroke="#cfcfd3" stroke-width="1"/>
<line x1="380.76" y1="179.5" x2="461.26" y2="180.06" stroke="#bcbcc0" stroke-width="2.5"/>
<line x1="380.76" y1="179.5" x2="461.26" y2="180.06" stroke="#cfcfd3" stroke-width="1"/>
<line x1="380.76" y1="179.5" x2="380.2" y2="260" stroke="#bcbcc0" stroke-width="2.5"/>
<line x1="380.76" y1="179.5" x2="380.2" y2="260" stroke="#cfcfd3" stroke-width="1"/>
<line x1="380.2" y1="260" x2="460.7" y2="260.56" stroke="#bcbcc0" stroke-width="2.5"/>
<line x1="380.2" y1="260" x2="460.7" y2="260.56" stroke="#cfcfd3" stroke-width="1"/>
<line x1="380.2" y1="260" x2="379.64" y2="340.5" stroke="#bcbcc0" stroke-width="2.5"/>
<line x1="380.2" y1="260" x2="379.64" y2="340.5" stroke="#cfcfd3" stroke-width="1"/>
<line x1="379.64" y1="340.5" x2="460.14" y2="341.06" stroke="#bcbcc0" stroke-width="2.5"/>
<line x1="379.64" y1="340.5" x2="460.14" y2="341.06" stroke="#cfcfd3" stroke-width="1"/>
<line x1="379.64" y1="340.5" x2="379.08" y2="421" stroke="#bcbcc0" stroke-width="2.5"/>
<line x1="379.64" y1="340.5" x2="379.08" y2="421" stroke="#cfcfd3" stroke-width="1"/>
<line x1="379.08" y1="421" x2="459.57" y2="421.56" stroke="#bcbcc0" stroke-width="2.5"/>
<line x1="379.08" y1="421" x2="459.57" y2="421.56" stroke="#cfcfd3" stroke-width="1"/>
<line x1="461.82" y1="99.57" x2="542.32" y2="100.13" stroke="#bcbcc0" stroke-width="2.5"/>
<line x1="461.82" y1="99.57" x2="542.32" y2="100.13" stroke="#cfcfd3" stroke-width="1"/>
<line x1="461.82" y1="99.57" x2="461.26" y2="180.06" stroke="#bcbcc0" stroke-width="2.5"/>
<line x1="461.82" y1="99.57" x2="461.26" y2="180.06" stroke="#cfcfd3" stroke-width="1"/>
<line x1="461.26" y1="180.06" x2="541.76" y2="180.63" stroke="#bcbcc0" stroke-width="2.5"/>
<line x1="461.26" y1="180.06" x2="541.76" y2="180.63" stroke="#cfcfd3" stroke-width="1"/>
<line x1="461.26" y1="180.06" x2="460.7" y2="260.56" stroke="#bcbcc0" stroke-width="2.5"/>
<line x1="461.26" y1="180.06" x2="460.7" y2="260.56" stroke="#cfcfd3" stroke-width="1"/>
<line x1="460.7" y1="260.56" x2="541.2" y2="261.12" stroke="#bcbcc0" stroke-width="2.5"/>
<line x1="460.7" y1="260.56" x2="541.2" y2="261.12" stroke="#cfcfd3" stroke-width="1"/>
<line x1="460.7" y1="260.56" x2="460.14" y2="341.06" stroke="#bcbcc0" stroke-width="2.5"/>
<line x1="460.7" y1="260.56" x2="460.14" y2="341.06" stroke="#cfcfd3" stroke-width="1"/>
<line x1="460.14" y1="341.06" x2="540.63" y2="341.62" stroke="#bcbcc0" stroke-width="2.5"/>
<line x1="460.14" y1="341.06" x2="540.63" y2="341.62" stroke="#cfcfd3" stroke-width="1"/>
<line x1="460.14" y1="341.06" x2="459.57" y2="421.56" stroke="#bcbcc0" stroke-width="2.5"/>
<line x1="460.14" y1="341.06" x2="459.57" y2="421.56" stroke="#cfcfd3" stroke-width="1"/>
<line x1="459.57" y1="421.56" x2="540.07" y2="422.12" stroke="#bcbcc0" stroke-width="2.5"/>
<line x1="459.57" y1="421.56" x2="540.07" y2="422.12" stroke="#cfcfd3" stroke-width="1"/>
<line x1="542.32" y1="100.13" x2="541.76" y2="180.63" stroke="#bcbcc0" stroke-width="2.5"/>
<line x1="542.32" y1="100.13" x2="541.76" y2="180.63" stroke="#cfcfd3" stroke-width="1"/>
<line x1="541.76" y1="180.63" x2="541.2" y2="261.12" stroke="#bcbcc0" stroke-width="2.5"/>
<line x1="541.76" y1="180.63" x2="541.2" y2="261.12" stroke="#cfcfd3" stroke-width="1"/>
<line x1="541.2" y1="261.12" x2="540.63" y2="341.62" stroke="#bcbcc0" stroke-width="2.5"/>
<line x1="541.2" y1="261.12" x2="540.63" y2="341.62" stroke="#cfcfd3" stroke-width="1"/>
<line x1="540.63" y1="341.62" x2="540.07" y2="422.12" stroke="#bcbcc0" stroke-width="2.5"/>
<line x1="540.63" y1="341.62" x2="540.07" y2="422.12" stroke="#cfcfd3" stroke-width="1"/>
<circle cx="220.33" cy="97.88" r="17.9" fill="url(#G0)"/>
<circle cx="219.77" cy="178.38" r="9.8" fill="url(#N0)"/>
<circle cx="219.2" cy="258.88" r="17.9" fill="url(#G0)"/>
<circle cx="218.64" cy="339.37" r="9.8" fill="url(#N0)"/>
<circle cx="218.08" cy="419.87" r="17.9" fill="url(#G0)"/>
<circle cx="300.83" cy="98.44" r="9.8" fill="url(#N0)"/>
<circle cx="300.26" cy="178.94" r="17.9" fill="url(#Y0)"/>
<circle cx="299.7" cy="259.44" r="9.8" fill="url(#N0)"/>
<circle cx="299.14" cy="339.94" r="17.9" fill="url(#Y0)"/>
<circle cx="298.58" cy="420.43" r="9.8" fill="url(#N0)"/>
<circle cx="381.32" cy="99" r="17.9" fill="url(#G0)"/>
<circle cx="380.76" cy="179.5" r="9.8" fill="url(#N0)"/>
<circle cx="380.2" cy="260" r="17.9" fill="url(#G0)"/>
<circle cx="379.64" cy="340.5" r="9.8" fill="url(#N0)"/>
<circle cx="379.08" cy="421" r="17.9" fill="url(#G0)"/>
<circle cx="461.82" cy="99.57" r="9.8" fill="url(#N0)"/>
<circle cx="461.26" cy="180.06" r="17.9" fill="url(#Y0)"/>
<circle cx="460.7" cy="260.56" r="9.8" fill="url(#N0)"/>
<circle cx="460.14" cy="341.06" r="17.9" fill="url(#Y0)"/>
<circle cx="459.57" cy="421.56" r="9.8" fill="url(#N0)"/>
<circle cx="542.32" cy="100.13" r="17.9" fill="url(#G0)"/>
<circle cx="541.76" cy="180.63" r="9.8" fill="url(#N0)"/>
<circle cx="541.2" cy="261.12" r="17.9" fill="url(#G0)"/>
<circle cx="540.63" cy="341.62" r="9.8" fill="url(#N0)"/>
<circle cx="540.07" cy="422.12" r="17.9" fill="url(#G0)"/>
</g>
<g>
<circle cx="705.71" cy="136.09" r="12.65" fill="url(#G26)"/>
<circle cx="743.19" cy="202.46" r="12.65" fill="url(#G26)"/>
<circle cx="780.66" cy="268.84" r="12.65" fill="url(#G26)"/>
<circle cx="818.14" cy="335.21" r="12.65" fill="url(#G26)"/>
<circle cx="855.61" cy="401.58" r="12.65" fill="url(#G26)"/>
<circle cx="781.93" cy="136.82" r="12.65" fill="url(#Y26)"/>
<circle cx="819.41" cy="203.19" r="12.65" fill="url(#Y26)"/>
<circle cx="856.88" cy="269.57" r="12.65" fill="url(#Y26)"/>
<circle cx="894.36" cy="335.94" r="12.65" fill="url(#Y26)"/>
<circle cx="931.83" cy="402.32" r="12.65" fill="url(#Y26)"/>
<circle cx="858.15" cy="137.55" r="12.65" fill="url(#G26)"/>
<circle cx="895.62" cy="203.93" r="12.65" fill="url(#G26)"/>
<circle cx="933.1" cy="270.3" r="12.65" fill="url(#G26)"/>
<circle cx="970.58" cy="336.67" r="12.65" fill="url(#G26)"/>
<circle cx="1008.05" cy="403.05" r="12.65" fill="url(#G26)"/>
<circle cx="934.37" cy="138.28" r="12.65" fill="url(#Y26)"/>
<circle cx="971.84" cy="204.66" r="12.65" fill="url(#Y26)"/>
<circle cx="1009.32" cy="271.03" r="12.65" fill="url(#Y26)"/>
<circle cx="1046.79" cy="337.41" r="12.65" fill="url(#Y26)"/>
<circle cx="1084.27" cy="403.78" r="12.65" fill="url(#Y26)"/>
<circle cx="1010.59" cy="139.02" r="12.65" fill="url(#G26)"/>
<circle cx="1048.06" cy="205.39" r="12.65" fill="url(#G26)"/>
<circle cx="1085.54" cy="271.76" r="12.65" fill="url(#G26)"/>
<circle cx="1123.01" cy="338.14" r="12.65" fill="url(#G26)"/>
<circle cx="1160.49" cy="404.51" r="12.65" fill="url(#G26)"/>
<line x1="739.35" y1="155.95" x2="778.1" y2="178.82" stroke="#b1b17a" stroke-width="2.07"/>
<line x1="739.35" y1="155.95" x2="778.1" y2="178.82" stroke="#c0c08b" stroke-width="0.83"/>
<line x1="777.67" y1="223.81" x2="816.42" y2="246.68" stroke="#b1b17a" stroke-width="2.07"/>
<line x1="777.67" y1="223.81" x2="816.42" y2="246.68" stroke="#c0c08b" stroke-width="0.83"/>
<line x1="777.67" y1="223.81" x2="778.1" y2="178.82" stroke="#b1b17a" stroke-width="2.07"/>
<line x1="777.67" y1="223.81" x2="778.1" y2="178.82" stroke="#c0c08b" stroke-width="0.83"/>
<line x1="815.99" y1="291.67" x2="854.74" y2="314.54" stroke="#b1b17a" stroke-width="2.07"/>
<line x1="815.99" y1="291.67" x2="854.74" y2="314.54" stroke="#c0c08b" stroke-width="0.83"/>
<line x1="815.99" y1="291.67" x2="816.42" y2="246.68" stroke="#b1b17a" stroke-width="2.07"/>
<line x1="815.99" y1="291.67" x2="816.42" y2="246.68" stroke="#c0c08b" stroke-width="0.83"/>
<line x1="854.31" y1="359.54" x2="893.06" y2="382.41" stroke="#b1b17a" stroke-width="2.07"/>
<line x1="854.31" y1="359.54" x2="893.06" y2="382.41" stroke="#c0c08b" stroke-width="0.83"/>
<line x1="854.31" y1="359.54" x2="854.74" y2="314.54" stroke="#b1b17a" stroke-width="2.07"/>
<line x1="854.31" y1="359.54" x2="854.74" y2="314.54" stroke="#c0c08b" stroke-width="0.83"/>
<line x1="817.28" y1="156.7" x2="856.03" y2="179.57" stroke="#b1b17a" stroke-width="2.07"/>
<line x1="817.28" y1="156.7" x2="856.03" y2="179.57" stroke="#c0c08b" stroke-width="0.83"/>
<line x1="817.28" y1="156.7" x2="778.1" y2="178.82" stroke="#b1b17a" stroke-width="2.07"/>
<line x1="817.28" y1="156.7" x2="778.1" y2="178.82" stroke="#c0c08b" stroke-width="0.83"/>
<line x1="855.6" y1="224.56" x2="894.35" y2="247.43" stroke="#b1b17a" stroke-width="2.07"/>
<line x1="855.6" y1="224.56" x2="894.35" y2="247.43" stroke="#c0c08b" stroke-width="0.83"/>
<line x1="855.6" y1="224.56" x2="816.42" y2="246.68" stroke="#b1b17a" stroke-width="2.07"/>
<line x1="855.6" y1="224.56" x2="816.42" y2="246.68" stroke="#c0c08b" stroke-width="0.83"/>
<line x1="855.6" y1="224.56" x2="856.03" y2="179.57" stroke="#b1b17a" stroke-width="2.07"/>
<line x1="855.6" y1="224.56" x2="856.03" y2="179.57" stroke="#c0c08b" stroke-width="0.83"/>
<line x1="893.92" y1="292.42" x2="932.67" y2="315.29" stroke="#b1b17a" stroke-width="2.07"/>
<line x1="893.92" y1="292.42" x2="932.67" y2="315.29" stroke="#c0c08b" stroke-width="0.83"/>
<line x1="893.92" y1="292.42" x2="854.74" y2="314.54" stroke="#b1b17a" stroke-width="2.07"/>
<line x1="893.92" y1="292.42" x2="854.74" y2="314.54" stroke="#c0c08b" stroke-width="0.83"/>
<line x1="893.92" y1="292.42" x2="894.35" y2="247.43" stroke="#b1b17a" stroke-width="2.07"/>
<line x1="893.92" y1="292.42" x2="894.35" y2="247.43" stroke="#c0c08b" stroke-width="0.83"/>
<line x1="932.24" y1="360.29" x2="970.99" y2="383.16" stroke="#b1b17a" stroke-width="2.07"/>
<line x1="932.24" y1="360.29" x2="970.99" y2="383.16" stroke="#c0c08b" stroke-width="0.83"/>
<line x1="932.24" y1="360.29" x2="893.06" y2="382.41" stroke="#b1b17a" stroke-width="2.07"/>
<line x1="932.24" y1="360.29" x2="893.06" y2="382.41" stroke="#c0c08b" stroke-width="0.83"/>
<line x1="932.24" y1="360.29" x2="932.67" y2="315.29" stroke="#b1b17a" stroke-width="2.07"/>
<line x1="932.24" y1="360.29" x2="932.67" y2="315.29" stroke="#c0c08b" stroke-width="0.83"/>
<line x1="895.21" y1="157.44" x2="933.96" y2="180.31" stroke="#b1b17a" stroke-width="2.07"/>
<line x1="895.21" y1="157.44" x2="933.96" y2="180.31" stroke="#c0c08b" stroke-width="0.83"/>
<line x1="895.21" y1="157.44" x2="856.03" y2="179.57" stroke="#b1b17a" stroke-width="2.07"/>
<line x1="895.21" y1="157.44" x2="856.03" y2="179.57" stroke="#c0c08b" stroke-width="0.83"/>
<line x1="933.53" y1="225.31" x2="972.28" y2="248.18" stroke="#b1b17a" stroke-width="2.07"/>
<line x1="933.53" y1="225.31" x2="972.28" y2="248.18" stroke="#c0c08b" stroke-width="0.83"/>
<line x1="933.53" y1="225.31" x2="894.35" y2="247.43" stroke="#b1b17a" stroke-width="2.07"/>
<line x1="933.53" y1="225.31" x2="894.35" y2="247.43" stroke="#c0c08b" stroke-width="0.83"/>
<line x1="933.53" y1="225.31" x2="933.96" y2="180.31" stroke="#b1b17a" stroke-width="2.07"/>
<line x1="933.53" y1="225.31" x2="933.96" y2="180.31" stroke="#c0c08b" stroke-width="0.83"/>
<line x1="971.85" y1="293.17" x2="1010.6" y2="316.04" stroke="#b1b17a" stroke-width="2.07"/>
<line x1="971.85" y1="293.17" x2="1010.6" y2="316.04" stroke="#c0c08b" stroke-width="0.83"/>
<line x1="971.85" y1="293.17" x2="932.67" y2="315.29" stroke="#b1b17a" stroke-width="2.07"/>
<line x1="971.85" y1="293.17" x2="932.67" y2="315.29" stroke="#c0c08b" stroke-width="0.83"/>
<line x1="971.85" y1="293.17" x2="972.28" y2="248.18" stroke="#b1b17a" stroke-width="2.07"/>
<line x1="971.85" y1="293.17" x2="972.28" y2="248.18" stroke="#c0c08b" stroke-width="0.83"/>
<line x1="1010.17" y1="361.03" x2="1048.92" y2="383.9" stroke="#b1b17a" stroke-width="2.07"/>
<line x1="1010.17" y1="361.03" x2="1048.92" y2="383.9" stroke="#c0c08b" stroke-width="0.83"/>
<line x1="1010.17" y1="361.03" x2="970.99" y2="383.16" stroke="#b1b17a" stroke-width="2.07"/>
<line x1="1010.17" y1="361.03" x2="970.99" y2="383.16" stroke="#c0c08b" stroke-width="0.83"/>
<line x1="1010.17" y1="361.03" x2="1010.6" y2="316.04" stroke="#b1b17a" stroke-width="2.07"/>
<line x1="1010.17" y1="361.03" x2="1010.6" y2="316.04" stroke="#c0c08b" stroke-width="0.83"/>
<line x1="973.14" y1="158.19" x2="1011.89" y2="181.06" stroke="#b1b17a" stroke-width="2.07"/>
<line x1="973.14" y1="158.19" x2="1011.89" y2="181.06" stroke="#c0c08b" stroke-width="0.83"/>
<line x1="973.14" y1="158.19" x2="933.96" y2="180.31" stroke="#b1b17a" stroke-width="2.07"/>
<line x1="973.14" y1="158.19" x2="933.96" y2="180.31" stroke="#c0c08b" stroke-width="0.83"/>
<line x1="1011.46" y1="226.06" x2="1050.21" y2="248.93" stroke="#b1b17a" stroke-width="2.07"/>
<line x1="1011.46" y1="226.06" x2="1050.21" y2="248.93" stroke="#c0c08b" stroke-width="0.83"/>
<line x1="1011.46" y1="226.06" x2="972.28" y2="248.18" stroke="#b1b17a" stroke-width="2.07"/>
<line x1="1011.46" y1="226.06" x2="972.28" y2="248.18" stroke="#c0c08b" stroke-width="0.83"/>
<line x1="1011.46" y1="226.06" x2="1011.89" y2="181.06" stroke="#b1b17a" stroke-width="2.07"/>
<line x1="1011.46" y1="226.06" x2="1011.89" y2="181.06" stroke="#c0c08b" stroke-width="0.83"/>
<line x1="1049.78" y1="293.92" x2="1088.53" y2="316.79" stroke="#b1b17a" stroke-width="2.07"/>
<line x1="1049.78" y1="293.92" x2="1088.53" y2="316.79" stroke="#c0c08b" stroke-width="0.83"/>
<line x1="1049.78" y1="293.92" x2="1010.6" y2="316.04" stroke="#b1b17a" stroke-width="2.07"/>
<line x1="1049.78" y1="293.92" x2="1010.6" y2="316.04" stroke="#c0c08b" stroke-width="0.83"/>
<line x1="1049.78" y1="293.92" x2="1050.21" y2="248.93" stroke="#b1b17a" stroke-width="2.07"/>
<line x1="1049.78" y1="293.92" x2="1050.21" y2="248.93" stroke="#c0c08b" stroke-width="0.83"/>
<line x1="1088.1" y1="361.78" x2="1126.85" y2="384.65" stroke="#b1b17a" stroke-width="2.07"/>
<line x1="1088.1" y1="361.78" x2="1126.85" y2="384.65" stroke="#c0c08b" stroke-width="0.83"/>
<line x1="1088.1" y1="361.78" x2="1048.92" y2="383.9" stroke="#b1b17a" stroke-width="2.07"/>
<line x1="1088.1" y1="361.78" x2="1048.92" y2="383.9" stroke="#c0c08b" stroke-width="0.83"/>
<line x1="1088.1" y1="361.78" x2="1088.53" y2="316.79" stroke="#b1b17a" stroke-width="2.07"/>
<line x1="1088.1" y1="361.78" x2="1088.53" y2="316.79" stroke="#c0c08b" stroke-width="0.83"/>
<circle cx="739.35" cy="155.95" r="7.85" fill="url(#B22)"/>
<circle cx="777.67" cy="223.81" r="7.85" fill="url(#B22)"/>
<circle cx="815.99" cy="291.67" r="7.85" fill="url(#B22)"/>
<circle cx="854.31" cy="359.54" r="7.85" fill="url(#B22)"/>
<circle cx="817.28" cy="156.7" r="7.85" fill="url(#B22)"/>
<circle cx="855.6" cy="224.56" r="7.85" fill="url(#B22)"/>
<circle cx="893.92" cy="292.42" r="7.85" fill="url(#B22)"/>
<circle cx="932.24" cy="360.29" r="7.85" fill="url(#B22)"/>
<circle cx="895.21" cy="157.44" r="7.85" fill="url(#B22)"/>
<circle cx="933.53" cy="225.31" r="7.85" fill="url(#B22)"/>
<circle cx="971.85" cy="293.17" r="7.85" fill="url(#B22)"/>
<circle cx="1010.17" cy="361.03" r="7.85" fill="url(#B22)"/>
<circle cx="973.14" cy="158.19" r="7.85" fill="url(#B22)"/>
<circle cx="1011.46" cy="226.06" r="7.85" fill="url(#B22)"/>
<circle cx="1049.78" cy="293.92" r="7.85" fill="url(#B22)"/>
<circle cx="1088.1" cy="361.78" r="7.85" fill="url(#B22)"/>
<circle cx="778.1" cy="178.82" r="7.85" fill="url(#B22)"/>
<circle cx="816.42" cy="246.68" r="7.85" fill="url(#B22)"/>
<circle cx="854.74" cy="314.54" r="7.85" fill="url(#B22)"/>
<circle cx="893.06" cy="382.41" r="7.85" fill="url(#B22)"/>
<circle cx="856.03" cy="179.57" r="7.85" fill="url(#B22)"/>
<circle cx="894.35" cy="247.43" r="7.85" fill="url(#B22)"/>
<circle cx="932.67" cy="315.29" r="7.85" fill="url(#B22)"/>
<circle cx="970.99" cy="383.16" r="7.85" fill="url(#B22)"/>
<circle cx="933.96" cy="180.31" r="7.85" fill="url(#B22)"/>
<circle cx="972.28" cy="248.18" r="7.85" fill="url(#B22)"/>
<circle cx="1010.6" cy="316.04" r="7.85" fill="url(#B22)"/>
<circle cx="1048.92" cy="383.9" r="7.85" fill="url(#B22)"/>
<circle cx="1011.89" cy="181.06" r="7.85" fill="url(#B22)"/>
<circle cx="1050.21" cy="248.93" r="7.85" fill="url(#B22)"/>
<circle cx="1088.53" cy="316.79" r="7.85" fill="url(#B22)"/>
<circle cx="1126.85" cy="384.65" r="7.85" fill="url(#B22)"/>
<circle cx="696.43" cy="130.61" r="13.16" fill="url(#G20)"/>
<circle cx="735.44" cy="199.69" r="13.16" fill="url(#G20)"/>
<circle cx="774.44" cy="268.78" r="13.16" fill="url(#G20)"/>
<circle cx="813.45" cy="337.86" r="13.16" fill="url(#G20)"/>
<circle cx="852.45" cy="406.94" r="13.16" fill="url(#G20)"/>
<circle cx="775.76" cy="131.37" r="13.16" fill="url(#Y20)"/>
<circle cx="814.77" cy="200.46" r="13.16" fill="url(#Y20)"/>
<circle cx="853.77" cy="269.54" r="13.16" fill="url(#Y20)"/>
<circle cx="892.78" cy="338.62" r="13.16" fill="url(#Y20)"/>
<circle cx="931.78" cy="407.7" r="13.16" fill="url(#Y20)"/>
<circle cx="855.09" cy="132.14" r="13.16" fill="url(#G20)"/>
<circle cx="894.09" cy="201.22" r="13.16" fill="url(#G20)"/>
<circle cx="933.1" cy="270.3" r="13.16" fill="url(#G20)"/>
<circle cx="972.11" cy="339.38" r="13.16" fill="url(#G20)"/>
<circle cx="1011.11" cy="408.46" r="13.16" fill="url(#G20)"/>
<circle cx="934.42" cy="132.9" r="13.16" fill="url(#Y20)"/>
<circle cx="973.42" cy="201.98" r="13.16" fill="url(#Y20)"/>
<circle cx="1012.43" cy="271.06" r="13.16" fill="url(#Y20)"/>
<circle cx="1051.43" cy="340.14" r="13.16" fill="url(#Y20)"/>
<circle cx="1090.44" cy="409.23" r="13.16" fill="url(#Y20)"/>
<circle cx="1013.75" cy="133.66" r="13.16" fill="url(#G20)"/>
<circle cx="1052.75" cy="202.74" r="13.16" fill="url(#G20)"/>
<circle cx="1091.76" cy="271.82" r="13.16" fill="url(#G20)"/>
<circle cx="1130.76" cy="340.91" r="13.16" fill="url(#G20)"/>
<circle cx="1169.77" cy="409.99" r="13.16" fill="url(#G20)"/>
<line x1="731.26" y1="151.17" x2="771.63" y2="175" stroke="#aaaa6f" stroke-width="2.16"/>
<line x1="731.26" y1="151.17" x2="771.63" y2="175" stroke="#bbbb82" stroke-width="0.86"/>
<line x1="771.18" y1="221.87" x2="811.55" y2="245.7" stroke="#aaaa6f" stroke-width="2.16"/>
<line x1="771.18" y1="221.87" x2="811.55" y2="245.7" stroke="#bbbb82" stroke-width="0.86"/>
<line x1="771.18" y1="221.87" x2="771.63" y2="175" stroke="#aaaa6f" stroke-width="2.16"/>
<line x1="771.18" y1="221.87" x2="771.63" y2="175" stroke="#bbbb82" stroke-width="0.86"/>
<line x1="811.1" y1="292.57" x2="851.47" y2="316.39" stroke="#aaaa6f" stroke-width="2.16"/>
<line x1="811.1" y1="292.57" x2="851.47" y2="316.39" stroke="#bbbb82" stroke-width="0.86"/>
<line x1="811.1" y1="292.57" x2="811.55" y2="245.7" stroke="#aaaa6f" stroke-width="2.16"/>
<line x1="811.1" y1="292.57" x2="811.55" y2="245.7" stroke="#bbbb82" stroke-width="0.86"/>
<line x1="851.02" y1="363.26" x2="891.38" y2="387.09" stroke="#aaaa6f" stroke-width="2.16"/>
<line x1="851.02" y1="363.26" x2="891.38" y2="387.09" stroke="#bbbb82" stroke-width="0.86"/>
<line x1="851.02" y1="363.26" x2="851.47" y2="316.39" stroke="#aaaa6f" stroke-width="2.16"/>
<line x1="851.02" y1="363.26" x2="851.47" y2="316.39" stroke="#bbbb82" stroke-width="0.86"/>
<line x1="812.45" y1="151.95" x2="852.82" y2="175.78" stroke="#aaaa6f" stroke-width="2.16"/>
<line x1="812.45" y1="151.95" x2="852.82" y2="175.78" stroke="#bbbb82" stroke-width="0.86"/>
<line x1="812.45" y1="151.95" x2="771.63" y2="175" stroke="#aaaa6f" stroke-width="2.16"/>
<line x1="812.45" y1="151.95" x2="771.63" y2="175" stroke="#bbbb82" stroke-width="0.86"/>
<line x1="852.37" y1="222.65" x2="892.73" y2="246.47" stroke="#aaaa6f" stroke-width="2.16"/>
<line x1="852.37" y1="222.65" x2="892.73" y2="246.47" stroke="#bbbb82" stroke-width="0.86"/>
<line x1="852.37" y1="222.65" x2="811.55" y2="245.7" stroke="#aaaa6f" stroke-width="2.16"/>
<line x1="852.37" y1="222.65" x2="811.55" y2="245.7" stroke="#bbbb82" stroke-width="0.86"/>
<line x1="852.37" y1="222.65" x2="852.82" y2="175.78" stroke="#aaaa6f" stroke-width="2.16"/>
<line x1="852.37" y1="222.65" x2="852.82" y2="175.78" stroke="#bbbb82" stroke-width="0.86"/>
<line x1="892.28" y1="293.35" x2="932.65" y2="317.17" stroke="#aaaa6f" stroke-width="2.16"/>
<line x1="892.28" y1="293.35" x2="932.65" y2="317.17" stroke="#bbbb82" stroke-width="0.86"/>
<line x1="892.28" y1="293.35" x2="851.47" y2="316.39" stroke="#aaaa6f" stroke-width="2.16"/>
<line x1="892.28" y1="293.35" x2="851.47" y2="316.39" stroke="#bbbb82" stroke-width="0.86"/>
<line x1="892.28" y1="293.35" x2="892.73" y2="246.47" stroke="#aaaa6f" stroke-width="2.16"/>
<line x1="892.28" y1="293.35" x2="892.73" y2="246.47" stroke="#bbbb82" stroke-width="0.86"/>
<line x1="932.2" y1="364.04" x2="972.57" y2="387.87" stroke="#aaaa6f" stroke-width="2.16"/>
<line x1="932.2" y1="364.04" x2="972.57" y2="387.87" stroke="#bbbb82" stroke-width="0.86"/>
<line x1="932.2" y1="364.04" x2="891.38" y2="387.09" stroke="#aaaa6f" stroke-width="2.16"/>
<line x1="932.2" y1="364.04" x2="891.38" y2="387.09" stroke="#bbbb82" stroke-width="0.86"/>
<line x1="932.2" y1="364.04" x2="932.65" y2="317.17" stroke="#aaaa6f" stroke-width="2.16"/>
<line x1="932.2" y1="364.04" x2="932.65" y2="317.17" stroke="#bbbb82" stroke-width="0.86"/>
<line x1="893.63" y1="152.73" x2="934" y2="176.56" stroke="#aaaa6f" stroke-width="2.16"/>
<line x1="893.63" y1="152.73" x2="934" y2="176.56" stroke="#bbbb82" stroke-width="0.86"/>
<line x1="893.63" y1="152.73" x2="852.82" y2="175.78" stroke="#aaaa6f" stroke-width="2.16"/>
<line x1="893.63" y1="152.73" x2="852.82" y2="175.78" stroke="#bbbb82" stroke-width="0.86"/>
<line x1="933.55" y1="223.43" x2="973.92" y2="247.25" stroke="#aaaa6f" stroke-width="2.16"/>
<line x1="933.55" y1="223.43" x2="973.92" y2="247.25" stroke="#bbbb82" stroke-width="0.86"/>
<line x1="933.55" y1="223.43" x2="892.73" y2="246.47" stroke="#aaaa6f" stroke-width="2.16"/>
<line x1="933.55" y1="223.43" x2="892.73" y2="246.47" stroke="#bbbb82" stroke-width="0.86"/>
<line x1="933.55" y1="223.43" x2="934" y2="176.56" stroke="#aaaa6f" stroke-width="2.16"/>
<line x1="933.55" y1="223.43" x2="934" y2="176.56" stroke="#bbbb82" stroke-width="0.86"/>
<line x1="973.47" y1="294.13" x2="1013.83" y2="317.95" stroke="#aaaa6f" stroke-width="2.16"/>
<line x1="973.47" y1="294.13" x2="1013.83" y2="317.95" stroke="#bbbb82" stroke-width="0.86"/>
<line x1="973.47" y1="294.13" x2="932.65" y2="317.17" stroke="#aaaa6f" stroke-width="2.16"/>
<line x1="973.47" y1="294.13" x2="932.65" y2="317.17" stroke="#bbbb82" stroke-width="0.86"/>
<line x1="973.47" y1="294.13" x2="973.92" y2="247.25" stroke="#aaaa6f" stroke-width="2.16"/>
<line x1="973.47" y1="294.13" x2="973.92" y2="247.25" stroke="#bbbb82" stroke-width="0.86"/>
<line x1="1013.38" y1="364.82" x2="1053.75" y2="388.65" stroke="#aaaa6f" stroke-width="2.16"/>
<line x1="1013.38" y1="364.82" x2="1053.75" y2="388.65" stroke="#bbbb82" stroke-width="0.86"/>
<line x1="1013.38" y1="364.82" x2="972.57" y2="387.87" stroke="#aaaa6f" stroke-width="2.16"/>
<line x1="1013.38" y1="364.82" x2="972.57" y2="387.87" stroke="#bbbb82" stroke-width="0.86"/>
<line x1="1013.38" y1="364.82" x2="1013.83" y2="317.95" stroke="#aaaa6f" stroke-width="2.16"/>
<line x1="1013.38" y1="364.82" x2="1013.83" y2="317.95" stroke="#bbbb82" stroke-width="0.86"/>
<line x1="974.82" y1="153.51" x2="1015.18" y2="177.34" stroke="#aaaa6f" stroke-width="2.16"/>
<line x1="974.82" y1="153.51" x2="1015.18" y2="177.34" stroke="#bbbb82" stroke-width="0.86"/>
<line x1="974.82" y1="153.51" x2="934" y2="176.56" stroke="#aaaa6f" stroke-width="2.16"/>
<line x1="974.82" y1="153.51" x2="934" y2="176.56" stroke="#bbbb82" stroke-width="0.86"/>
<line x1="1014.73" y1="224.21" x2="1055.1" y2="248.03" stroke="#aaaa6f" stroke-width="2.16"/>
<line x1="1014.73" y1="224.21" x2="1055.1" y2="248.03" stroke="#bbbb82" stroke-width="0.86"/>
<line x1="1014.73" y1="224.21" x2="973.92" y2="247.25" stroke="#aaaa6f" stroke-width="2.16"/>
<line x1="1014.73" y1="224.21" x2="973.92" y2="247.25" stroke="#bbbb82" stroke-width="0.86"/>
<line x1="1014.73" y1="224.21" x2="1015.18" y2="177.34" stroke="#aaaa6f" stroke-width="2.16"/>
<line x1="1014.73" y1="224.21" x2="1015.18" y2="177.34" stroke="#bbbb82" stroke-width="0.86"/>
<line x1="1054.65" y1="294.9" x2="1095.02" y2="318.73" stroke="#aaaa6f" stroke-width="2.16"/>
<line x1="1054.65" y1="294.9" x2="1095.02" y2="318.73" stroke="#bbbb82" stroke-width="0.86"/>
<line x1="1054.65" y1="294.9" x2="1013.83" y2="317.95" stroke="#aaaa6f" stroke-width="2.16"/>
<line x1="1054.65" y1="294.9" x2="1013.83" y2="317.95" stroke="#bbbb82" stroke-width="0.86"/>
<line x1="1054.65" y1="294.9" x2="1055.1" y2="248.03" stroke="#aaaa6f" stroke-width="2.16"/>
<line x1="1054.65" y1="294.9" x2="1055.1" y2="248.03" stroke="#bbbb82" stroke-width="0.86"/>
<line x1="1094.57" y1="365.6" x2="1134.94" y2="389.43" stroke="#aaaa6f" stroke-width="2.16"/>
<line x1="1094.57" y1="365.6" x2="1134.94" y2="389.43" stroke="#bbbb82" stroke-width="0.86"/>
<line x1="1094.57" y1="365.6" x2="1053.75" y2="388.65" stroke="#aaaa6f" stroke-width="2.16"/>
<line x1="1094.57" y1="365.6" x2="1053.75" y2="388.65" stroke="#bbbb82" stroke-width="0.86"/>
<line x1="1094.57" y1="365.6" x2="1095.02" y2="318.73" stroke="#aaaa6f" stroke-width="2.16"/>
<line x1="1094.57" y1="365.6" x2="1095.02" y2="318.73" stroke="#bbbb82" stroke-width="0.86"/>
<circle cx="731.26" cy="151.17" r="8.17" fill="url(#B16)"/>
<circle cx="771.18" cy="221.87" r="8.17" fill="url(#B16)"/>
<circle cx="811.1" cy="292.57" r="8.17" fill="url(#B16)"/>
<circle cx="851.02" cy="363.26" r="8.17" fill="url(#B16)"/>
<circle cx="812.45" cy="151.95" r="8.17" fill="url(#B16)"/>
<circle cx="852.37" cy="222.65" r="8.17" fill="url(#B16)"/>
<circle cx="892.28" cy="293.35" r="8.17" fill="url(#B16)"/>
<circle cx="932.2" cy="364.04" r="8.17" fill="url(#B16)"/>
<circle cx="893.63" cy="152.73" r="8.17" fill="url(#B16)"/>
<circle cx="933.55" cy="223.43" r="8.17" fill="url(#B16)"/>
<circle cx="973.47" cy="294.13" r="8.17" fill="url(#B16)"/>
<circle cx="1013.38" cy="364.82" r="8.17" fill="url(#B16)"/>
<circle cx="974.82" cy="153.51" r="8.17" fill="url(#B16)"/>
<circle cx="1014.73" cy="224.21" r="8.17" fill="url(#B16)"/>
<circle cx="1054.65" cy="294.9" r="8.17" fill="url(#B16)"/>
<circle cx="1094.57" cy="365.6" r="8.17" fill="url(#B16)"/>
<circle cx="771.63" cy="175" r="8.17" fill="url(#B16)"/>
<circle cx="811.55" cy="245.7" r="8.17" fill="url(#B16)"/>
<circle cx="851.47" cy="316.39" r="8.17" fill="url(#B16)"/>
<circle cx="891.38" cy="387.09" r="8.17" fill="url(#B16)"/>
<circle cx="852.82" cy="175.78" r="8.17" fill="url(#B16)"/>
<circle cx="892.73" cy="246.47" r="8.17" fill="url(#B16)"/>
<circle cx="932.65" cy="317.17" r="8.17" fill="url(#B16)"/>
<circle cx="972.57" cy="387.87" r="8.17" fill="url(#B16)"/>
<circle cx="934" cy="176.56" r="8.17" fill="url(#B16)"/>
<circle cx="973.92" cy="247.25" r="8.17" fill="url(#B16)"/>
<circle cx="1013.83" cy="317.95" r="8.17" fill="url(#B16)"/>
<circle cx="1053.75" cy="388.65" r="8.17" fill="url(#B16)"/>
<circle cx="1015.18" cy="177.34" r="8.17" fill="url(#B16)"/>
<circle cx="1055.1" cy="248.03" r="8.17" fill="url(#B16)"/>
<circle cx="1095.02" cy="318.73" r="8.17" fill="url(#B16)"/>
<circle cx="1134.94" cy="389.43" r="8.17" fill="url(#B16)"/>
<circle cx="686.36" cy="124.67" r="13.72" fill="url(#G13)"/>
<circle cx="727.03" cy="196.69" r="13.72" fill="url(#G13)"/>
<circle cx="767.69" cy="268.71" r="13.72" fill="url(#G13)"/>
<circle cx="808.36" cy="340.73" r="13.72" fill="url(#G13)"/>
<circle cx="849.02" cy="412.75" r="13.72" fill="url(#G13)"/>
<circle cx="769.07" cy="125.46" r="13.72" fill="url(#Y13)"/>
<circle cx="809.73" cy="197.49" r="13.72" fill="url(#Y13)"/>
<circle cx="850.4" cy="269.51" r="13.72" fill="url(#Y13)"/>
<circle cx="891.06" cy="341.53" r="13.72" fill="url(#Y13)"/>
<circle cx="931.72" cy="413.55" r="13.72" fill="url(#Y13)"/>
<circle cx="851.77" cy="126.26" r="13.72" fill="url(#G13)"/>
<circle cx="892.44" cy="198.28" r="13.72" fill="url(#G13)"/>
<circle cx="933.1" cy="270.3" r="13.72" fill="url(#G13)"/>
<circle cx="973.76" cy="342.32" r="13.72" fill="url(#G13)"/>
<circle cx="1014.43" cy="414.34" r="13.72" fill="url(#G13)"/>
<circle cx="934.48" cy="127.05" r="13.72" fill="url(#Y13)"/>
<circle cx="975.14" cy="199.07" r="13.72" fill="url(#Y13)"/>
<circle cx="1015.8" cy="271.09" r="13.72" fill="url(#Y13)"/>
<circle cx="1056.47" cy="343.11" r="13.72" fill="url(#Y13)"/>
<circle cx="1097.13" cy="415.14" r="13.72" fill="url(#Y13)"/>
<circle cx="1017.18" cy="127.85" r="13.72" fill="url(#G13)"/>
<circle cx="1057.84" cy="199.87" r="13.72" fill="url(#G13)"/>
<circle cx="1098.51" cy="271.89" r="13.72" fill="url(#G13)"/>
<circle cx="1139.17" cy="343.91" r="13.72" fill="url(#G13)"/>
<circle cx="1179.84" cy="415.93" r="13.72" fill="url(#G13)"/>
<line x1="722.47" y1="145.98" x2="764.59" y2="170.84" stroke="#a3a364" stroke-width="2.25"/>
<line x1="722.47" y1="145.98" x2="764.59" y2="170.84" stroke="#b6b678" stroke-width="0.9"/>
<line x1="764.12" y1="219.76" x2="806.25" y2="244.62" stroke="#a3a364" stroke-width="2.25"/>
<line x1="764.12" y1="219.76" x2="806.25" y2="244.62" stroke="#b6b678" stroke-width="0.9"/>
<line x1="764.12" y1="219.76" x2="764.59" y2="170.84" stroke="#a3a364" stroke-width="2.25"/>
<line x1="764.12" y1="219.76" x2="764.59" y2="170.84" stroke="#b6b678" stroke-width="0.9"/>
<line x1="805.78" y1="293.54" x2="847.91" y2="318.4" stroke="#a3a364" stroke-width="2.25"/>
<line x1="805.78" y1="293.54" x2="847.91" y2="318.4" stroke="#b6b678" stroke-width="0.9"/>
<line x1="805.78" y1="293.54" x2="806.25" y2="244.62" stroke="#a3a364" stroke-width="2.25"/>
<line x1="805.78" y1="293.54" x2="806.25" y2="244.62" stroke="#b6b678" stroke-width="0.9"/>
<line x1="847.44" y1="367.32" x2="889.56" y2="392.18" stroke="#a3a364" stroke-width="2.25"/>
<line x1="847.44" y1="367.32" x2="889.56" y2="392.18" stroke="#b6b678" stroke-width="0.9"/>
<line x1="847.44" y1="367.32" x2="847.91" y2="318.4" stroke="#a3a364" stroke-width="2.25"/>
<line x1="847.44" y1="367.32" x2="847.91" y2="318.4" stroke="#b6b678" stroke-width="0.9"/>
<line x1="807.19" y1="146.79" x2="849.32" y2="171.66" stroke="#a3a364" stroke-width="2.25"/>
<line x1="807.19" y1="146.79" x2="849.32" y2="171.66" stroke="#b6b678" stroke-width="0.9"/>
<line x1="807.19" y1="146.79" x2="764.59" y2="170.84" stroke="#a3a364" stroke-width="2.25"/>
<line x1="807.19" y1="146.79" x2="764.59" y2="170.84" stroke="#b6b678" stroke-width="0.9"/>
<line x1="848.85" y1="220.57" x2="890.97" y2="245.44" stroke="#a3a364" stroke-width="2.25"/>
<line x1="848.85" y1="220.57" x2="890.97" y2="245.44" stroke="#b6b678" stroke-width="0.9"/>
<line x1="848.85" y1="220.57" x2="806.25" y2="244.62" stroke="#a3a364" stroke-width="2.25"/>
<line x1="848.85" y1="220.57" x2="806.25" y2="244.62" stroke="#b6b678" stroke-width="0.9"/>
<line x1="848.85" y1="220.57" x2="849.32" y2="171.66" stroke="#a3a364" stroke-width="2.25"/>
<line x1="848.85" y1="220.57" x2="849.32" y2="171.66" stroke="#b6b678" stroke-width="0.9"/>
<line x1="890.5" y1="294.35" x2="932.63" y2="319.21" stroke="#a3a364" stroke-width="2.25"/>
<line x1="890.5" y1="294.35" x2="932.63" y2="319.21" stroke="#b6b678" stroke-width="0.9"/>
<line x1="890.5" y1="294.35" x2="847.91" y2="318.4" stroke="#a3a364" stroke-width="2.25"/>
<line x1="890.5" y1="294.35" x2="847.91" y2="318.4" stroke="#b6b678" stroke-width="0.9"/>
<line x1="890.5" y1="294.35" x2="890.97" y2="245.44" stroke="#a3a364" stroke-width="2.25"/>
<line x1="890.5" y1="294.35" x2="890.97" y2="245.44" stroke="#b6b678" stroke-width="0.9"/>
<line x1="932.16" y1="368.13" x2="974.29" y2="392.99" stroke="#a3a364" stroke-width="2.25"/>
<line x1="932.16" y1="368.13" x2="974.29" y2="392.99" stroke="#b6b678" stroke-width="0.9"/>
<line x1="932.16" y1="368.13" x2="889.56" y2="392.18" stroke="#a3a364" stroke-width="2.25"/>
<line x1="932.16" y1="368.13" x2="889.56" y2="392.18" stroke="#b6b678" stroke-width="0.9"/>
<line x1="932.16" y1="368.13" x2="932.63" y2="319.21" stroke="#a3a364" stroke-width="2.25"/>
<line x1="932.16" y1="368.13" x2="932.63" y2="319.21" stroke="#b6b678" stroke-width="0.9"/>
<line x1="891.91" y1="147.61" x2="934.04" y2="172.47" stroke="#a3a364" stroke-width="2.25"/>
<line x1="891.91" y1="147.61" x2="934.04" y2="172.47" stroke="#b6b678" stroke-width="0.9"/>
<line x1="891.91" y1="147.61" x2="849.32" y2="171.66" stroke="#a3a364" stroke-width="2.25"/>
<line x1="891.91" y1="147.61" x2="849.32" y2="171.66" stroke="#b6b678" stroke-width="0.9"/>
<line x1="933.57" y1="221.39" x2="975.7" y2="246.25" stroke="#a3a364" stroke-width="2.25"/>
<line x1="933.57" y1="221.39" x2="975.7" y2="246.25" stroke="#b6b678" stroke-width="0.9"/>
<line x1="933.57" y1="221.39" x2="890.97" y2="245.44" stroke="#a3a364" stroke-width="2.25"/>
<line x1="933.57" y1="221.39" x2="890.97" y2="245.44" stroke="#b6b678" stroke-width="0.9"/>
<line x1="933.57" y1="221.39" x2="934.04" y2="172.47" stroke="#a3a364" stroke-width="2.25"/>
<line x1="933.57" y1="221.39" x2="934.04" y2="172.47" stroke="#b6b678" stroke-width="0.9"/>
<line x1="975.23" y1="295.16" x2="1017.35" y2="320.03" stroke="#a3a364" stroke-width="2.25"/>
<line x1="975.23" y1="295.16" x2="1017.35" y2="320.03" stroke="#b6b678" stroke-width="0.9"/>
<line x1="975.23" y1="295.16" x2="932.63" y2="319.21" stroke="#a3a364" stroke-width="2.25"/>
<line x1="975.23" y1="295.16" x2="932.63" y2="319.21" stroke="#b6b678" stroke-width="0.9"/>
<line x1="975.23" y1="295.16" x2="975.7" y2="246.25" stroke="#a3a364" stroke-width="2.25"/>
<line x1="975.23" y1="295.16" x2="975.7" y2="246.25" stroke="#b6b678" stroke-width="0.9"/>
<line x1="1016.88" y1="368.94" x2="1059.01" y2="393.81" stroke="#a3a364" stroke-width="2.25"/>
<line x1="1016.88" y1="368.94" x2="1059.01" y2="393.81" stroke="#b6b678" stroke-width="0.9"/>
<line x1="1016.88" y1="368.94" x2="974.29" y2="392.99" stroke="#a3a364" stroke-width="2.25"/>
<line x1="1016.88" y1="368.94" x2="974.29" y2="392.99" stroke="#b6b678" stroke-width="0.9"/>
<line x1="1016.88" y1="368.94" x2="1017.35" y2="320.03" stroke="#a3a364" stroke-width="2.25"/>
<line x1="1016.88" y1="368.94" x2="1017.35" y2="320.03" stroke="#b6b678" stroke-width="0.9"/>
<line x1="976.64" y1="148.42" x2="1018.76" y2="173.28" stroke="#a3a364" stroke-width="2.25"/>
<line x1="976.64" y1="148.42" x2="1018.76" y2="173.28" stroke="#b6b678" stroke-width="0.9"/>
<line x1="976.64" y1="148.42" x2="934.04" y2="172.47" stroke="#a3a364" stroke-width="2.25"/>
<line x1="976.64" y1="148.42" x2="934.04" y2="172.47" stroke="#b6b678" stroke-width="0.9"/>
<line x1="1018.29" y1="222.2" x2="1060.42" y2="247.06" stroke="#a3a364" stroke-width="2.25"/>
<line x1="1018.29" y1="222.2" x2="1060.42" y2="247.06" stroke="#b6b678" stroke-width="0.9"/>
<line x1="1018.29" y1="222.2" x2="975.7" y2="246.25" stroke="#a3a364" stroke-width="2.25"/>
<line x1="1018.29" y1="222.2" x2="975.7" y2="246.25" stroke="#b6b678" stroke-width="0.9"/>
<line x1="1018.29" y1="222.2" x2="1018.76" y2="173.28" stroke="#a3a364" stroke-width="2.25"/>
<line x1="1018.29" y1="222.2" x2="1018.76" y2="173.28" stroke="#b6b678" stroke-width="0.9"/>
<line x1="1059.95" y1="295.98" x2="1102.08" y2="320.84" stroke="#a3a364" stroke-width="2.25"/>
<line x1="1059.95" y1="295.98" x2="1102.08" y2="320.84" stroke="#b6b678" stroke-width="0.9"/>
<line x1="1059.95" y1="295.98" x2="1017.35" y2="320.03" stroke="#a3a364" stroke-width="2.25"/>
<line x1="1059.95" y1="295.98" x2="1017.35" y2="320.03" stroke="#b6b678" stroke-width="0.9"/>
<line x1="1059.95" y1="295.98" x2="1060.42" y2="247.06" stroke="#a3a364" stroke-width="2.25"/>
<line x1="1059.95" y1="295.98" x2="1060.42" y2="247.06" stroke="#b6b678" stroke-width="0.9"/>
<line x1="1101.61" y1="369.76" x2="1143.73" y2="394.62" stroke="#a3a364" stroke-width="2.25"/>
<line x1="1101.61" y1="369.76" x2="1143.73" y2="394.62" stroke="#b6b678" stroke-width="0.9"/>
<line x1="1101.61" y1="369.76" x2="1059.01" y2="393.81" stroke="#a3a364" stroke-width="2.25"/>
<line x1="1101.61" y1="369.76" x2="1059.01" y2="393.81" stroke="#b6b678" stroke-width="0.9"/>
<line x1="1101.61" y1="369.76" x2="1102.08" y2="320.84" stroke="#a3a364" stroke-width="2.25"/>
<line x1="1101.61" y1="369.76" x2="1102.08" y2="320.84" stroke="#b6b678" stroke-width="0.9"/>
<circle cx="722.47" cy="145.98" r="8.53" fill="url(#B9)"/>
<circle cx="764.12" cy="219.76" r="8.53" fill="url(#B9)"/>
<circle cx="805.78" cy="293.54" r="8.53" fill="url(#B9)"/>
<circle cx="847.44" cy="367.32" r="8.53" fill="url(#B9)"/>
<circle cx="807.19" cy="146.79" r="8.53" fill="url(#B9)"/>
<circle cx="848.85" cy="220.57" r="8.53" fill="url(#B9)"/>
<circle cx="890.5" cy="294.35" r="8.53" fill="url(#B9)"/>
<circle cx="932.16" cy="368.13" r="8.53" fill="url(#B9)"/>
<circle cx="891.91" cy="147.61" r="8.53" fill="url(#B9)"/>
<circle cx="933.57" cy="221.39" r="8.53" fill="url(#B9)"/>
<circle cx="975.23" cy="295.16" r="8.53" fill="url(#B9)"/>
<circle cx="1016.88" cy="368.94" r="8.53" fill="url(#B9)"/>
<circle cx="976.64" cy="148.42" r="8.53" fill="url(#B9)"/>
<circle cx="1018.29" cy="222.2" r="8.53" fill="url(#B9)"/>
<circle cx="1059.95" cy="295.98" r="8.53" fill="url(#B9)"/>
<circle cx="1101.61" cy="369.76" r="8.53" fill="url(#B9)"/>
<circle cx="764.59" cy="170.84" r="8.53" fill="url(#B9)"/>
<circle cx="806.25" cy="244.62" r="8.53" fill="url(#B9)"/>
<circle cx="847.91" cy="318.4" r="8.53" fill="url(#B9)"/>
<circle cx="889.56" cy="392.18" r="8.53" fill="url(#B9)"/>
<circle cx="849.32" cy="171.66" r="8.53" fill="url(#B9)"/>
<circle cx="890.97" cy="245.44" r="8.53" fill="url(#B9)"/>
<circle cx="932.63" cy="319.21" r="8.53" fill="url(#B9)"/>
<circle cx="974.29" cy="392.99" r="8.53" fill="url(#B9)"/>
<circle cx="934.04" cy="172.47" r="8.53" fill="url(#B9)"/>
<circle cx="975.7" cy="246.25" r="8.53" fill="url(#B9)"/>
<circle cx="1017.35" cy="320.03" r="8.53" fill="url(#B9)"/>
<circle cx="1059.01" cy="393.81" r="8.53" fill="url(#B9)"/>
<circle cx="1018.76" cy="173.28" r="8.53" fill="url(#B9)"/>
<circle cx="1060.42" cy="247.06" r="8.53" fill="url(#B9)"/>
<circle cx="1102.08" cy="320.84" r="8.53" fill="url(#B9)"/>
<circle cx="1143.73" cy="394.62" r="8.53" fill="url(#B9)"/>
<circle cx="675.4" cy="118.2" r="14.33" fill="url(#G6)"/>
<circle cx="717.87" cy="193.42" r="14.33" fill="url(#G6)"/>
<circle cx="760.34" cy="268.64" r="14.33" fill="url(#G6)"/>
<circle cx="802.81" cy="343.86" r="14.33" fill="url(#G6)"/>
<circle cx="845.28" cy="419.08" r="14.33" fill="url(#G6)"/>
<circle cx="761.78" cy="119.03" r="14.33" fill="url(#Y6)"/>
<circle cx="804.25" cy="194.25" r="14.33" fill="url(#Y6)"/>
<circle cx="846.72" cy="269.47" r="14.33" fill="url(#Y6)"/>
<circle cx="889.19" cy="344.69" r="14.33" fill="url(#Y6)"/>
<circle cx="931.66" cy="419.91" r="14.33" fill="url(#Y6)"/>
<circle cx="848.16" cy="119.86" r="14.33" fill="url(#G6)"/>
<circle cx="890.63" cy="195.08" r="14.33" fill="url(#G6)"/>
<circle cx="933.1" cy="270.3" r="14.33" fill="url(#G6)"/>
<circle cx="975.57" cy="345.52" r="14.33" fill="url(#G6)"/>
<circle cx="1018.04" cy="420.74" r="14.33" fill="url(#G6)"/>
<circle cx="934.54" cy="120.69" r="14.33" fill="url(#Y6)"/>
<circle cx="977.01" cy="195.91" r="14.33" fill="url(#Y6)"/>
<circle cx="1019.48" cy="271.13" r="14.33" fill="url(#Y6)"/>
<circle cx="1061.95" cy="346.35" r="14.33" fill="url(#Y6)"/>
<circle cx="1104.42" cy="421.57" r="14.33" fill="url(#Y6)"/>
<circle cx="1020.92" cy="121.52" r="14.33" fill="url(#G6)"/>
<circle cx="1063.39" cy="196.74" r="14.33" fill="url(#G6)"/>
<circle cx="1105.86" cy="271.96" r="14.33" fill="url(#G6)"/>
<circle cx="1148.33" cy="347.18" r="14.33" fill="url(#G6)"/>
<circle cx="1190.8" cy="422.4" r="14.33" fill="url(#G6)"/>
<line x1="712.87" y1="140.31" x2="756.92" y2="166.31" stroke="#9d9d59" stroke-width="2.35"/>
<line x1="712.87" y1="140.31" x2="756.92" y2="166.31" stroke="#b0b06e" stroke-width="0.94"/>
<line x1="756.42" y1="217.46" x2="800.47" y2="243.45" stroke="#9d9d59" stroke-width="2.35"/>
<line x1="756.42" y1="217.46" x2="800.47" y2="243.45" stroke="#b0b06e" stroke-width="0.94"/>
<line x1="756.42" y1="217.46" x2="756.92" y2="166.31" stroke="#9d9d59" stroke-width="2.35"/>
<line x1="756.42" y1="217.46" x2="756.92" y2="166.31" stroke="#b0b06e" stroke-width="0.94"/>
<line x1="799.98" y1="294.6" x2="844.03" y2="320.59" stroke="#9d9d59" stroke-width="2.35"/>
<line x1="799.98" y1="294.6" x2="844.03" y2="320.59" stroke="#b0b06e" stroke-width="0.94"/>
<line x1="799.98" y1="294.6" x2="800.47" y2="243.45" stroke="#9d9d59" stroke-width="2.35"/>
<line x1="799.98" y1="294.6" x2="800.47" y2="243.45" stroke="#b0b06e" stroke-width="0.94"/>
<line x1="843.53" y1="371.74" x2="887.58" y2="397.73" stroke="#9d9d59" stroke-width="2.35"/>
<line x1="843.53" y1="371.74" x2="887.58" y2="397.73" stroke="#b0b06e" stroke-width="0.94"/>
<line x1="843.53" y1="371.74" x2="844.03" y2="320.59" stroke="#9d9d59" stroke-width="2.35"/>
<line x1="843.53" y1="371.74" x2="844.03" y2="320.59" stroke="#b0b06e" stroke-width="0.94"/>
<line x1="801.45" y1="141.17" x2="845.5" y2="167.16" stroke="#9d9d59" stroke-width="2.35"/>
<line x1="801.45" y1="141.17" x2="845.5" y2="167.16" stroke="#b0b06e" stroke-width="0.94"/>
<line x1="801.45" y1="141.17" x2="756.92" y2="166.31" stroke="#9d9d59" stroke-width="2.35"/>
<line x1="801.45" y1="141.17" x2="756.92" y2="166.31" stroke="#b0b06e" stroke-width="0.94"/>
<line x1="845.01" y1="218.31" x2="889.05" y2="244.3" stroke="#9d9d59" stroke-width="2.35"/>
<line x1="845.01" y1="218.31" x2="889.05" y2="244.3" stroke="#b0b06e" stroke-width="0.94"/>
<line x1="845.01" y1="218.31" x2="800.47" y2="243.45" stroke="#9d9d59" stroke-width="2.35"/>
<line x1="845.01" y1="218.31" x2="800.47" y2="243.45" stroke="#b0b06e" stroke-width="0.94"/>
<line x1="845.01" y1="218.31" x2="845.5" y2="167.16" stroke="#9d9d59" stroke-width="2.35"/>
<line x1="845.01" y1="218.31" x2="845.5" y2="167.16" stroke="#b0b06e" stroke-width="0.94"/>
<line x1="888.56" y1="295.45" x2="932.61" y2="321.44" stroke="#9d9d59" stroke-width="2.35"/>
<line x1="888.56" y1="295.45" x2="932.61" y2="321.44" stroke="#b0b06e" stroke-width="0.94"/>
<line x1="888.56" y1="295.45" x2="844.03" y2="320.59" stroke="#9d9d59" stroke-width="2.35"/>
<line x1="888.56" y1="295.45" x2="844.03" y2="320.59" stroke="#b0b06e" stroke-width="0.94"/>
<line x1="888.56" y1="295.45" x2="889.05" y2="244.3" stroke="#9d9d59" stroke-width="2.35"/>
<line x1="888.56" y1="295.45" x2="889.05" y2="244.3" stroke="#b0b06e" stroke-width="0.94"/>
<line x1="932.12" y1="372.59" x2="976.16" y2="398.58" stroke="#9d9d59" stroke-width="2.35"/>
<line x1="932.12" y1="372.59" x2="976.16" y2="398.58" stroke="#b0b06e" stroke-width="0.94"/>
<line x1="932.12" y1="372.59" x2="887.58" y2="397.73" stroke="#9d9d59" stroke-width="2.35"/>
<line x1="932.12" y1="372.59" x2="887.58" y2="397.73" stroke="#b0b06e" stroke-width="0.94"/>
<line x1="932.12" y1="372.59" x2="932.61" y2="321.44" stroke="#9d9d59" stroke-width="2.35"/>
<line x1="932.12" y1="372.59" x2="932.61" y2="321.44" stroke="#b0b06e" stroke-width="0.94"/>
<line x1="890.04" y1="142.02" x2="934.08" y2="168.01" stroke="#9d9d59" stroke-width="2.35"/>
<line x1="890.04" y1="142.02" x2="934.08" y2="168.01" stroke="#b0b06e" stroke-width="0.94"/>
<line x1="890.04" y1="142.02" x2="845.5" y2="167.16" stroke="#9d9d59" stroke-width="2.35"/>
<line x1="890.04" y1="142.02" x2="845.5" y2="167.16" stroke="#b0b06e" stroke-width="0.94"/>
<line x1="933.59" y1="219.16" x2="977.64" y2="245.15" stroke="#9d9d59" stroke-width="2.35"/>
<line x1="933.59" y1="219.16" x2="977.64" y2="245.15" stroke="#b0b06e" stroke-width="0.94"/>
<line x1="933.59" y1="219.16" x2="889.05" y2="244.3" stroke="#9d9d59" stroke-width="2.35"/>
<line x1="933.59" y1="219.16" x2="889.05" y2="244.3" stroke="#b0b06e" stroke-width="0.94"/>
<line x1="933.59" y1="219.16" x2="934.08" y2="168.01" stroke="#9d9d59" stroke-width="2.35"/>
<line x1="933.59" y1="219.16" x2="934.08" y2="168.01" stroke="#b0b06e" stroke-width="0.94"/>
<line x1="977.15" y1="296.3" x2="1021.19" y2="322.29" stroke="#9d9d59" stroke-width="2.35"/>
<line x1="977.15" y1="296.3" x2="1021.19" y2="322.29" stroke="#b0b06e" stroke-width="0.94"/>
<line x1="977.15" y1="296.3" x2="932.61" y2="321.44" stroke="#9d9d59" stroke-width="2.35"/>
<line x1="977.15" y1="296.3" x2="932.61" y2="321.44" stroke="#b0b06e" stroke-width="0.94"/>
<line x1="977.15" y1="296.3" x2="977.64" y2="245.15" stroke="#9d9d59" stroke-width="2.35"/>
<line x1="977.15" y1="296.3" x2="977.64" y2="245.15" stroke="#b0b06e" stroke-width="0.94"/>
<line x1="1020.7" y1="373.44" x2="1064.75" y2="399.43" stroke="#9d9d59" stroke-width="2.35"/>
<line x1="1020.7" y1="373.44" x2="1064.75" y2="399.43" stroke="#b0b06e" stroke-width="0.94"/>
<line x1="1020.7" y1="373.44" x2="976.16" y2="398.58" stroke="#9d9d59" stroke-width="2.35"/>
<line x1="1020.7" y1="373.44" x2="976.16" y2="398.58" stroke="#b0b06e" stroke-width="0.94"/>
<line x1="1020.7" y1="373.44" x2="1021.19" y2="322.29" stroke="#9d9d59" stroke-width="2.35"/>
<line x1="1020.7" y1="373.44" x2="1021.19" y2="322.29" stroke="#b0b06e" stroke-width="0.94"/>
<line x1="978.62" y1="142.87" x2="1022.67" y2="168.86" stroke="#9d9d59" stroke-width="2.35"/>
<line x1="978.62" y1="142.87" x2="1022.67" y2="168.86" stroke="#b0b06e" stroke-width="0.94"/>
<line x1="978.62" y1="142.87" x2="934.08" y2="168.01" stroke="#9d9d59" stroke-width="2.35"/>
<line x1="978.62" y1="142.87" x2="934.08" y2="168.01" stroke="#b0b06e" stroke-width="0.94"/>
<line x1="1022.17" y1="220.01" x2="1066.22" y2="246" stroke="#9d9d59" stroke-width="2.35"/>
<line x1="1022.17" y1="220.01" x2="1066.22" y2="246" stroke="#b0b06e" stroke-width="0.94"/>
<line x1="1022.17" y1="220.01" x2="977.64" y2="245.15" stroke="#9d9d59" stroke-width="2.35"/>
<line x1="1022.17" y1="220.01" x2="977.64" y2="245.15" stroke="#b0b06e" stroke-width="0.94"/>
<line x1="1022.17" y1="220.01" x2="1022.67" y2="168.86" stroke="#9d9d59" stroke-width="2.35"/>
<line x1="1022.17" y1="220.01" x2="1022.67" y2="168.86" stroke="#b0b06e" stroke-width="0.94"/>
<line x1="1065.73" y1="297.15" x2="1109.78" y2="323.14" stroke="#9d9d59" stroke-width="2.35"/>
<line x1="1065.73" y1="297.15" x2="1109.78" y2="323.14" stroke="#b0b06e" stroke-width="0.94"/>
<line x1="1065.73" y1="297.15" x2="1021.19" y2="322.29" stroke="#9d9d59" stroke-width="2.35"/>
<line x1="1065.73" y1="297.15" x2="1021.19" y2="322.29" stroke="#b0b06e" stroke-width="0.94"/>
<line x1="1065.73" y1="297.15" x2="1066.22" y2="246" stroke="#9d9d59" stroke-width="2.35"/>
<line x1="1065.73" y1="297.15" x2="1066.22" y2="246" stroke="#b0b06e" stroke-width="0.94"/>
<line x1="1109.28" y1="374.29" x2="1153.33" y2="400.29" stroke="#9d9d59" stroke-width="2.35"/>
<line x1="1109.28" y1="374.29" x2="1153.33" y2="400.29" stroke="#b0b06e" stroke-width="0.94"/>
<line x1="1109.28" y1="374.29" x2="1064.75" y2="399.43" stroke="#9d9d59" stroke-width="2.35"/>
<line x1="1109.28" y1="374.29" x2="1064.75" y2="399.43" stroke="#b0b06e" stroke-width="0.94"/>
<line x1="1109.28" y1="374.29" x2="1109.78" y2="323.14" stroke="#9d9d59" stroke-width="2.35"/>
<line x1="1109.28" y1="374.29" x2="1109.78" y2="323.14" stroke="#b0b06e" stroke-width="0.94"/>
<circle cx="712.87" cy="140.31" r="8.92" fill="url(#B3)"/>
<circle cx="756.42" cy="217.46" r="8.92" fill="url(#B3)"/>
<circle cx="799.98" cy="294.6" r="8.92" fill="url(#B3)"/>
<circle cx="843.53" cy="371.74" r="8.92" fill="url(#B3)"/>
<circle cx="801.45" cy="141.17" r="8.92" fill="url(#B3)"/>
<circle cx="845.01" cy="218.31" r="8.92" fill="url(#B3)"/>
<circle cx="888.56" cy="295.45" r="8.92" fill="url(#B3)"/>
<circle cx="932.12" cy="372.59" r="8.92" fill="url(#B3)"/>
<circle cx="890.04" cy="142.02" r="8.92" fill="url(#B3)"/>
<circle cx="933.59" cy="219.16" r="8.92" fill="url(#B3)"/>
<circle cx="977.15" cy="296.3" r="8.92" fill="url(#B3)"/>
<circle cx="1020.7" cy="373.44" r="8.92" fill="url(#B3)"/>
<circle cx="978.62" cy="142.87" r="8.92" fill="url(#B3)"/>
<circle cx="1022.17" cy="220.01" r="8.92" fill="url(#B3)"/>
<circle cx="1065.73" cy="297.15" r="8.92" fill="url(#B3)"/>
<circle cx="1109.28" cy="374.29" r="8.92" fill="url(#B3)"/>
<circle cx="756.92" cy="166.31" r="8.92" fill="url(#B3)"/>
<circle cx="800.47" cy="243.45" r="8.92" fill="url(#B3)"/>
<circle cx="844.03" cy="320.59" r="8.92" fill="url(#B3)"/>
<circle cx="887.58" cy="397.73" r="8.92" fill="url(#B3)"/>
<circle cx="845.5" cy="167.16" r="8.92" fill="url(#B3)"/>
<circle cx="889.05" cy="244.3" r="8.92" fill="url(#B3)"/>
<circle cx="932.61" cy="321.44" r="8.92" fill="url(#B3)"/>
<circle cx="976.16" cy="398.58" r="8.92" fill="url(#B3)"/>
<circle cx="934.08" cy="168.01" r="8.92" fill="url(#B3)"/>
<circle cx="977.64" cy="245.15" r="8.92" fill="url(#B3)"/>
<circle cx="1021.19" cy="322.29" r="8.92" fill="url(#B3)"/>
<circle cx="1064.75" cy="399.43" r="8.92" fill="url(#B3)"/>
<circle cx="1022.67" cy="168.86" r="8.92" fill="url(#B3)"/>
<circle cx="1066.22" cy="246" r="8.92" fill="url(#B3)"/>
<circle cx="1109.78" cy="323.14" r="8.92" fill="url(#B3)"/>
<circle cx="1153.33" cy="400.29" r="8.92" fill="url(#B3)"/>
<circle cx="663.42" cy="111.13" r="15" fill="url(#G0)"/>
<circle cx="707.86" cy="189.85" r="15" fill="url(#G0)"/>
<circle cx="752.31" cy="268.56" r="15" fill="url(#G0)"/>
<circle cx="796.75" cy="347.28" r="15" fill="url(#G0)"/>
<circle cx="841.2" cy="426" r="15" fill="url(#G0)"/>
<circle cx="753.81" cy="111.99" r="15" fill="url(#Y0)"/>
<circle cx="798.26" cy="190.71" r="15" fill="url(#Y0)"/>
<circle cx="842.7" cy="269.43" r="15" fill="url(#Y0)"/>
<circle cx="887.15" cy="348.15" r="15" fill="url(#Y0)"/>
<circle cx="931.6" cy="426.87" r="15" fill="url(#Y0)"/>
<circle cx="844.21" cy="112.86" r="15" fill="url(#G0)"/>
<circle cx="888.65" cy="191.58" r="15" fill="url(#G0)"/>
<circle cx="933.1" cy="270.3" r="15" fill="url(#G0)"/>
<circle cx="977.55" cy="349.02" r="15" fill="url(#G0)"/>
<circle cx="1021.99" cy="427.74" r="15" fill="url(#G0)"/>
<circle cx="934.6" cy="113.73" r="15" fill="url(#Y0)"/>
<circle cx="979.05" cy="192.45" r="15" fill="url(#Y0)"/>
<circle cx="1023.5" cy="271.17" r="15" fill="url(#Y0)"/>
<circle cx="1067.94" cy="349.89" r="15" fill="url(#Y0)"/>
<circle cx="1112.39" cy="428.61" r="15" fill="url(#Y0)"/>
<circle cx="1025" cy="114.6" r="15" fill="url(#G0)"/>
<circle cx="1069.45" cy="193.32" r="15" fill="url(#G0)"/>
<circle cx="1113.89" cy="272.04" r="15" fill="url(#G0)"/>
<circle cx="1158.34" cy="350.75" r="15" fill="url(#G0)"/>
<circle cx="1202.78" cy="429.47" r="15" fill="url(#G0)"/>
</g>
<ellipse cx="535.6" cy="527.5" rx="55.7" ry="29.5" fill="#dae3f3"/>
<ellipse cx="275" cy="629" rx="81.7" ry="42.3" fill="#dae3f3"/>
<ellipse cx="815.2" cy="640.6" rx="89.8" ry="45.9" fill="#dae3f3"/>
<ellipse cx="854.3" cy="844" rx="86.5" ry="43" fill="#dae3f3"/>
<ellipse cx="743.1" cy="1005.9" rx="93.4" ry="42.7" fill="#dae3f3"/>
<ellipse cx="215" cy="846.5" rx="89.4" ry="46" fill="#dae3f3"/>
<ellipse cx="348.2" cy="1002.1" rx="77.5" ry="39.7" fill="#dae3f3"/>
<line x1="536" y1="790.3" x2="536" y2="560.6" stroke="#dcdcdc" stroke-width="1" stroke-dasharray="4 3"/>
<line x1="536" y1="790.3" x2="715.59" y2="647.08" stroke="#dcdcdc" stroke-width="1" stroke-dasharray="4 3"/>
<line x1="536" y1="790.3" x2="759.94" y2="841.41" stroke="#dcdcdc" stroke-width="1" stroke-dasharray="4 3"/>
<line x1="536" y1="790.3" x2="635.66" y2="997.25" stroke="#dcdcdc" stroke-width="1" stroke-dasharray="4 3"/>
<line x1="536" y1="790.3" x2="436.34" y2="997.25" stroke="#dcdcdc" stroke-width="1" stroke-dasharray="4 3"/>
<line x1="536" y1="790.3" x2="312.06" y2="841.41" stroke="#dcdcdc" stroke-width="1" stroke-dasharray="4 3"/>
<line x1="536" y1="790.3" x2="356.41" y2="647.08" stroke="#dcdcdc" stroke-width="1" stroke-dasharray="4 3"/>
<polygon points="535.2,595.2 689.5,667.9 666.7,819.8 594.2,910 480.6,904.7 406.5,820.5 462.8,730.9" fill="#a9d18e" fill-opacity="0.27" stroke="none"/>
<polygon points="535.2,582.5 636.6,710 644.8,814.4 585,890.3 488.8,890.3 511.7,796.5 485.4,749.2" fill="#f8cba0" fill-opacity="0.8" stroke="none"/>
<path d="M549.5 831.69 L555.93 831.69 580.79 800.52 571.92 761.66 536 744.36 500.08 761.66 491.21 800.52 516.07 831.69 522.5 831.69" fill="none" stroke="#4f94a8" stroke-width="1.8" stroke-linejoin="miter"/>
<path d="M549.5 873.08 L575.87 873.08 625.58 810.75 607.83 733.01 536 698.42 464.17 733.01 446.42 810.75 496.13 873.08 522.5 873.08" fill="none" stroke="#8dc28a" stroke-width="1.8" stroke-linejoin="miter"/>
<path d="M549.5 914.47 L595.8 914.47 670.36 820.97 643.75 704.37 536 652.48 428.25 704.37 401.64 820.97 476.2 914.47 522.5 914.47" fill="none" stroke="#d2d66c" stroke-width="1.8" stroke-linejoin="miter"/>
<path d="M549.5 955.86 L615.73 955.86 715.15 831.19 679.67 675.73 536 606.54 392.33 675.73 356.85 831.19 456.27 955.86 522.5 955.86" fill="none" stroke="#f4bd52" stroke-width="1.9" stroke-linejoin="miter"/>
<path d="M554 997.25 L635.66 997.25 759.94 841.41 715.59 647.08 536 560.6 356.41 647.08 312.06 841.41 436.34 997.25 518.2 997.25" fill="none" stroke="#da7434" stroke-width="2" stroke-linejoin="miter"/>
<polygon points="535.2,595.2 689.5,667.9 666.7,819.8 594.2,910 480.6,904.7 406.5,820.5 462.8,730.9" fill="none" stroke="#a9d18e" stroke-width="4.6" stroke-linejoin="round"/>
<circle cx="689.5" cy="667.9" r="7.2" fill="#a9d18e"/>
<circle cx="666.7" cy="819.8" r="7.2" fill="#a9d18e"/>
<circle cx="594.2" cy="910" r="7.2" fill="#a9d18e"/>
<circle cx="480.6" cy="904.7" r="7.2" fill="#a9d18e"/>
<circle cx="406.5" cy="820.5" r="7.2" fill="#a9d18e"/>
<circle cx="462.8" cy="730.9" r="7.2" fill="#a9d18e"/>
<circle cx="535.2" cy="595.2" r="11" fill="#375623"/>
<polygon points="535.2,582.5 636.6,710 644.8,814.4 585,890.3 488.8,890.3 511.7,796.5 485.4,749.2" fill="none" stroke="#f4b183" stroke-width="4.6" stroke-linejoin="round"/>
<circle cx="636.6" cy="710" r="7.2" fill="#f4b183"/>
<circle cx="644.8" cy="814.4" r="7.2" fill="#f4b183"/>
<circle cx="585" cy="890.3" r="7.2" fill="#f4b183"/>
<circle cx="488.8" cy="890.3" r="7.2" fill="#f4b183"/>
<circle cx="511.7" cy="796.5" r="7.2" fill="#f4b183"/>
<circle cx="485.4" cy="749.2" r="7.2" fill="#f4b183"/>
<circle cx="535.2" cy="582.5" r="12" fill="#c55a11"/>
<text x="536" y="802.8" font-size="21.5" fill="#2e75b6" text-anchor="middle" class="b">50</text>
<text x="536" y="838.9" font-size="21.5" fill="#6aaa9b" text-anchor="middle" class="b">60</text>
<text x="536" y="882.2" font-size="21.5" fill="#92d050" text-anchor="middle" class="b">70</text>
<text x="536" y="924.3" font-size="21.5" fill="#e3da7e" text-anchor="middle" class="b">80</text>
<text x="536" y="964" font-size="21.5" fill="#f2b04e" text-anchor="middle" class="b">90</text>
<text x="536" y="1005.2" font-size="21.5" fill="#d9642c" text-anchor="middle" class="b">100</text>
<text x="535.2" y="534.9" font-size="37.1" fill="#c00000" text-anchor="middle" class="b">CEC</text>
<text x="274.4" y="625.1" font-size="32.4" fill="#000" text-anchor="middle">Atomic</text>
<text x="274.4" y="657.9" font-size="32.4" fill="#000" text-anchor="middle">radius</text>
<text x="814.8" y="628.7" font-size="32.4" fill="#000" text-anchor="middle">REN</text>
<text x="744.4" y="662.1" font-size="32.4" fill="#000" text-anchor="start">(Me<tspan font-size="21.5" dy="7">2</tspan><tspan dy="-7">-</tspan><tspan fill="#f4b183">N</tspan>/<tspan fill="#548235">B</tspan>)</text>
<text x="850.7" y="841.9" font-size="32.4" fill="#000" text-anchor="middle">Unit cell</text>
<text x="851.6" y="874.1" font-size="32.4" fill="#000" text-anchor="middle">volume</text>
<text x="744.5" y="993.2" font-size="32.4" fill="#000" text-anchor="middle">Lattice</text>
<text x="743.8" y="1025.4" font-size="32.4" fill="#000" text-anchor="middle">parameter</text>
<text x="215" y="833.4" font-size="32.4" fill="#000" text-anchor="middle">REN</text>
<text x="141.9" y="867.8" font-size="32.4" fill="#000" text-anchor="start">(Me<tspan font-size="21.5" dy="7">1</tspan><tspan dy="-7">-Me</tspan><tspan font-size="21.5" dy="7">2</tspan><tspan dy="-7">)</tspan></text>
<text x="345.2" y="994.9" font-size="32.4" fill="#000" text-anchor="middle">Bond</text>
<text x="345.2" y="1028.6" font-size="32.4" fill="#000" text-anchor="middle">length</text>
<text x="372.7" y="74.1" font-size="48.2" fill="#f4b183" text-anchor="middle" class="b">Cubic TMN</text>
<text x="719.2" y="71.7" font-size="48.5" fill="#548235" text-anchor="start" class="b">Hexagonal</text>
<text x="971.2" y="71.7" font-size="45.6" fill="#548235" text-anchor="start" class="b">TMB<tspan font-size="27" dy="10">2</tspan></text>
<text x="678" y="1147.3" font-size="42.8" fill="#3f3b3b" text-anchor="middle" class="b">New <tspan fill="#c00000">VEC-CEC</tspan> composite descriptor for mechanical</text>
<text x="134" y="1199.7" font-size="42.62" fill="#3f3b3b" text-anchor="start" class="b">properties with high accuracy for both TMN and TMB<tspan font-size="25" dy="6.5">2</tspan></text>
<text x="1121" y="692.5" font-size="37.4" fill="#7f7f7f" text-anchor="middle" class="b">Descriptors:</text>
<text x="1084.4" y="759.9" font-size="36.8" fill="#c00000" text-anchor="middle" class="b">VEC</text>
<text x="1141" y="760.5" font-size="33" fill="#7f7f7f" text-anchor="middle" class="b">+</text>
<circle cx="1181.6" cy="746.3" r="20" fill="#dae3f3"/>
<text x="1182.2" y="754.8" font-size="30" fill="#000" text-anchor="middle" font-style="italic">x</text>
<rect x="1027.5" y="858.5" width="103" height="22.4" fill="#fbe5d6" stroke="#f4b183" stroke-width="5"/>
<rect x="1027.5" y="901.2" width="103" height="22" fill="#e2f0d9" stroke="#a9d18e" stroke-width="5"/>
<text x="1157.2" y="881.3" font-size="31.7" fill="#f4b183" text-anchor="start" class="b">TMN</text>
<text x="1157.2" y="924.9" font-size="31.7" fill="#548235" text-anchor="start" class="b">TMB<tspan font-size="21" dy="7">2</tspan></text>
<text x="426.9" y="1037.7" font-size="23.7" fill="#6e6e6e" text-anchor="start" class="b">Accuracy <tspan dx="4.2">of sorting</tspan></text>
<text x="425.9" y="1066" font-size="23.5" fill="#6e6e6e" text-anchor="start" class="b">G/B distribution (%)</text>
</svg>
</body></html>
